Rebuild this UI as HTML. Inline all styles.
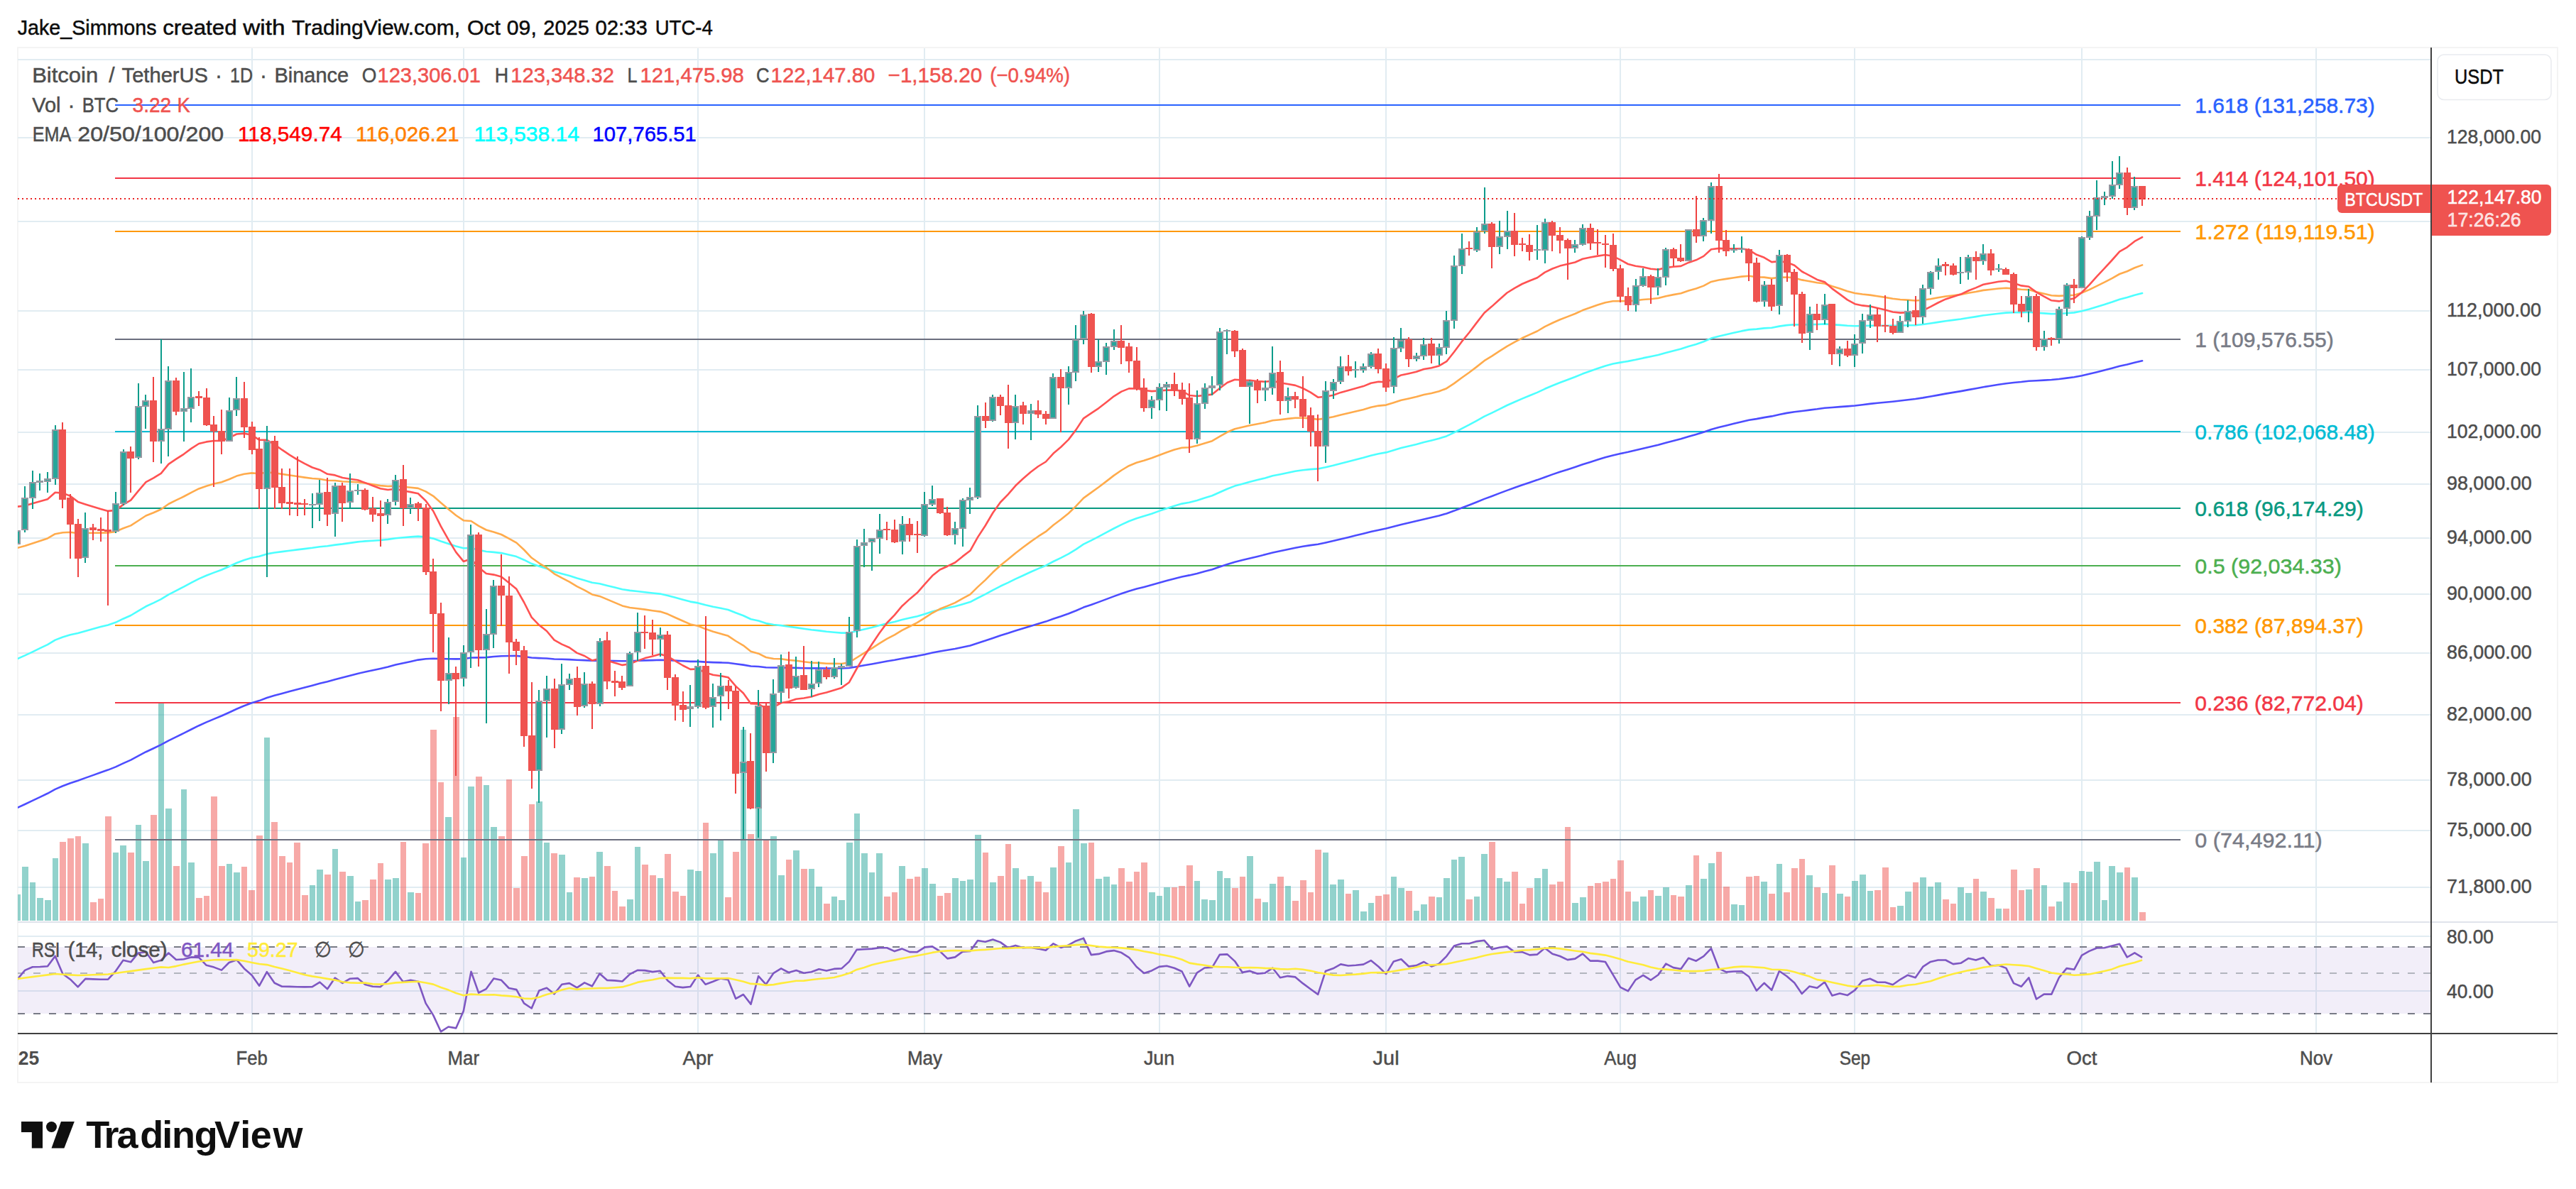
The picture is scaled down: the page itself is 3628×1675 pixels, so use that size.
<!DOCTYPE html>
<html><head><meta charset="utf-8"><title>BTCUSDT chart</title>
<style>html,body{margin:0;padding:0;background:#fff}svg{display:block}</style></head>
<body>
<svg width="3628" height="1675" viewBox="0 0 3628 1675" font-family="'Liberation Sans', sans-serif">
<rect width="3628" height="1675" fill="#fff"/>
<rect x="25" y="67" width="3577" height="1458" fill="none" stroke="#f4f4f4" stroke-width="2"/>
<g stroke="#e1ecf2" stroke-width="2">
<line x1="355" y1="68" x2="355" y2="1456"/>
<line x1="653" y1="68" x2="653" y2="1456"/>
<line x1="983" y1="68" x2="983" y2="1456"/>
<line x1="1302" y1="68" x2="1302" y2="1456"/>
<line x1="1633" y1="68" x2="1633" y2="1456"/>
<line x1="1952" y1="68" x2="1952" y2="1456"/>
<line x1="2282" y1="68" x2="2282" y2="1456"/>
<line x1="2612" y1="68" x2="2612" y2="1456"/>
<line x1="2932" y1="68" x2="2932" y2="1456"/>
<line x1="3262" y1="68" x2="3262" y2="1456"/>
<line x1="25" y1="84" x2="3424" y2="84"/>
<line x1="25" y1="194" x2="3424" y2="194"/>
<line x1="25" y1="312" x2="3424" y2="312"/>
<line x1="25" y1="438" x2="3424" y2="438"/>
<line x1="25" y1="521" x2="3424" y2="521"/>
<line x1="25" y1="609" x2="3424" y2="609"/>
<line x1="25" y1="682" x2="3424" y2="682"/>
<line x1="25" y1="758" x2="3424" y2="758"/>
<line x1="25" y1="837" x2="3424" y2="837"/>
<line x1="25" y1="920" x2="3424" y2="920"/>
<line x1="25" y1="1007" x2="3424" y2="1007"/>
<line x1="25" y1="1099" x2="3424" y2="1099"/>
<line x1="25" y1="1170" x2="3424" y2="1170"/>
<line x1="25" y1="1250" x2="3424" y2="1250"/>
<line x1="25" y1="1319" x2="3424" y2="1319"/>
<line x1="25" y1="1396" x2="3424" y2="1396"/>
</g>
<line x1="25" y1="1299" x2="3602" y2="1299" stroke="#e0e3eb" stroke-width="2"/>
<g shape-rendering="crispEdges" fill-opacity="0.5">
<rect x="25" y="1260" width="4" height="37" fill="#26a69a"/>
<rect x="31" y="1221" width="9" height="76" fill="#26a69a"/>
<rect x="42" y="1243" width="8" height="54" fill="#26a69a"/>
<rect x="52" y="1265" width="9" height="32" fill="#26a69a"/>
<rect x="63" y="1268" width="9" height="29" fill="#26a69a"/>
<rect x="74" y="1209" width="8" height="88" fill="#26a69a"/>
<rect x="84" y="1186" width="9" height="111" fill="#ef5350"/>
<rect x="95" y="1181" width="9" height="116" fill="#ef5350"/>
<rect x="106" y="1178" width="8" height="119" fill="#ef5350"/>
<rect x="116" y="1188" width="9" height="109" fill="#26a69a"/>
<rect x="127" y="1271" width="9" height="26" fill="#ef5350"/>
<rect x="138" y="1266" width="8" height="31" fill="#ef5350"/>
<rect x="148" y="1150" width="9" height="147" fill="#ef5350"/>
<rect x="159" y="1201" width="8" height="96" fill="#26a69a"/>
<rect x="169" y="1191" width="9" height="106" fill="#26a69a"/>
<rect x="180" y="1201" width="9" height="96" fill="#ef5350"/>
<rect x="191" y="1162" width="8" height="135" fill="#26a69a"/>
<rect x="201" y="1213" width="9" height="84" fill="#26a69a"/>
<rect x="212" y="1148" width="9" height="149" fill="#ef5350"/>
<rect x="223" y="990" width="8" height="307" fill="#26a69a"/>
<rect x="233" y="1139" width="9" height="158" fill="#26a69a"/>
<rect x="244" y="1220" width="9" height="77" fill="#ef5350"/>
<rect x="255" y="1112" width="8" height="185" fill="#26a69a"/>
<rect x="265" y="1215" width="9" height="82" fill="#26a69a"/>
<rect x="276" y="1265" width="9" height="32" fill="#ef5350"/>
<rect x="287" y="1262" width="8" height="35" fill="#ef5350"/>
<rect x="297" y="1122" width="9" height="175" fill="#ef5350"/>
<rect x="308" y="1220" width="9" height="77" fill="#ef5350"/>
<rect x="319" y="1217" width="8" height="80" fill="#26a69a"/>
<rect x="329" y="1229" width="9" height="68" fill="#26a69a"/>
<rect x="340" y="1221" width="8" height="76" fill="#ef5350"/>
<rect x="350" y="1254" width="9" height="43" fill="#ef5350"/>
<rect x="361" y="1177" width="9" height="120" fill="#ef5350"/>
<rect x="372" y="1039" width="8" height="258" fill="#26a69a"/>
<rect x="382" y="1158" width="9" height="139" fill="#ef5350"/>
<rect x="393" y="1206" width="9" height="91" fill="#ef5350"/>
<rect x="404" y="1215" width="8" height="82" fill="#ef5350"/>
<rect x="414" y="1187" width="9" height="110" fill="#ef5350"/>
<rect x="425" y="1261" width="9" height="36" fill="#ef5350"/>
<rect x="436" y="1247" width="8" height="50" fill="#26a69a"/>
<rect x="446" y="1225" width="9" height="72" fill="#26a69a"/>
<rect x="457" y="1232" width="9" height="65" fill="#ef5350"/>
<rect x="468" y="1196" width="8" height="101" fill="#26a69a"/>
<rect x="478" y="1228" width="9" height="69" fill="#ef5350"/>
<rect x="489" y="1234" width="9" height="63" fill="#26a69a"/>
<rect x="500" y="1270" width="8" height="27" fill="#26a69a"/>
<rect x="510" y="1268" width="9" height="29" fill="#ef5350"/>
<rect x="521" y="1239" width="9" height="58" fill="#ef5350"/>
<rect x="532" y="1216" width="8" height="81" fill="#ef5350"/>
<rect x="542" y="1239" width="9" height="58" fill="#26a69a"/>
<rect x="553" y="1237" width="9" height="60" fill="#26a69a"/>
<rect x="564" y="1186" width="8" height="111" fill="#ef5350"/>
<rect x="574" y="1257" width="9" height="40" fill="#26a69a"/>
<rect x="585" y="1258" width="8" height="39" fill="#ef5350"/>
<rect x="595" y="1188" width="9" height="109" fill="#ef5350"/>
<rect x="606" y="1028" width="9" height="269" fill="#ef5350"/>
<rect x="617" y="1102" width="8" height="195" fill="#ef5350"/>
<rect x="627" y="1151" width="9" height="146" fill="#26a69a"/>
<rect x="638" y="1010" width="9" height="287" fill="#ef5350"/>
<rect x="649" y="1208" width="8" height="89" fill="#26a69a"/>
<rect x="659" y="1108" width="9" height="189" fill="#26a69a"/>
<rect x="670" y="1094" width="9" height="203" fill="#ef5350"/>
<rect x="681" y="1106" width="8" height="191" fill="#26a69a"/>
<rect x="691" y="1165" width="9" height="132" fill="#26a69a"/>
<rect x="702" y="1178" width="9" height="119" fill="#ef5350"/>
<rect x="713" y="1098" width="8" height="199" fill="#ef5350"/>
<rect x="723" y="1251" width="9" height="46" fill="#ef5350"/>
<rect x="734" y="1206" width="9" height="91" fill="#ef5350"/>
<rect x="745" y="1133" width="8" height="164" fill="#ef5350"/>
<rect x="755" y="1129" width="9" height="168" fill="#26a69a"/>
<rect x="766" y="1187" width="8" height="110" fill="#26a69a"/>
<rect x="776" y="1202" width="9" height="95" fill="#ef5350"/>
<rect x="787" y="1204" width="9" height="93" fill="#26a69a"/>
<rect x="798" y="1257" width="8" height="40" fill="#26a69a"/>
<rect x="808" y="1236" width="9" height="61" fill="#ef5350"/>
<rect x="819" y="1237" width="9" height="60" fill="#26a69a"/>
<rect x="830" y="1235" width="8" height="62" fill="#ef5350"/>
<rect x="840" y="1200" width="9" height="97" fill="#26a69a"/>
<rect x="851" y="1220" width="9" height="77" fill="#ef5350"/>
<rect x="862" y="1255" width="8" height="42" fill="#ef5350"/>
<rect x="872" y="1277" width="9" height="20" fill="#ef5350"/>
<rect x="883" y="1267" width="9" height="30" fill="#26a69a"/>
<rect x="894" y="1193" width="8" height="104" fill="#26a69a"/>
<rect x="904" y="1218" width="9" height="79" fill="#ef5350"/>
<rect x="915" y="1233" width="9" height="64" fill="#ef5350"/>
<rect x="926" y="1237" width="8" height="60" fill="#26a69a"/>
<rect x="936" y="1203" width="9" height="94" fill="#ef5350"/>
<rect x="947" y="1256" width="9" height="41" fill="#ef5350"/>
<rect x="958" y="1262" width="8" height="35" fill="#ef5350"/>
<rect x="968" y="1225" width="9" height="72" fill="#26a69a"/>
<rect x="979" y="1227" width="9" height="70" fill="#26a69a"/>
<rect x="990" y="1159" width="8" height="138" fill="#ef5350"/>
<rect x="1000" y="1202" width="9" height="95" fill="#26a69a"/>
<rect x="1011" y="1183" width="8" height="114" fill="#26a69a"/>
<rect x="1021" y="1264" width="9" height="33" fill="#ef5350"/>
<rect x="1032" y="1200" width="9" height="97" fill="#ef5350"/>
<rect x="1043" y="1028" width="8" height="269" fill="#26a69a"/>
<rect x="1053" y="1175" width="9" height="122" fill="#ef5350"/>
<rect x="1064" y="1040" width="9" height="257" fill="#26a69a"/>
<rect x="1075" y="1182" width="8" height="115" fill="#ef5350"/>
<rect x="1085" y="1178" width="9" height="119" fill="#26a69a"/>
<rect x="1096" y="1233" width="9" height="64" fill="#26a69a"/>
<rect x="1107" y="1211" width="8" height="86" fill="#ef5350"/>
<rect x="1117" y="1198" width="9" height="99" fill="#26a69a"/>
<rect x="1128" y="1224" width="9" height="73" fill="#ef5350"/>
<rect x="1139" y="1224" width="8" height="73" fill="#26a69a"/>
<rect x="1149" y="1249" width="9" height="48" fill="#26a69a"/>
<rect x="1160" y="1273" width="9" height="24" fill="#ef5350"/>
<rect x="1171" y="1263" width="8" height="34" fill="#26a69a"/>
<rect x="1181" y="1268" width="9" height="29" fill="#26a69a"/>
<rect x="1192" y="1187" width="9" height="110" fill="#26a69a"/>
<rect x="1203" y="1146" width="8" height="151" fill="#26a69a"/>
<rect x="1213" y="1202" width="9" height="95" fill="#26a69a"/>
<rect x="1224" y="1229" width="8" height="68" fill="#26a69a"/>
<rect x="1234" y="1202" width="9" height="95" fill="#26a69a"/>
<rect x="1245" y="1263" width="9" height="34" fill="#ef5350"/>
<rect x="1256" y="1257" width="8" height="40" fill="#ef5350"/>
<rect x="1266" y="1220" width="9" height="77" fill="#26a69a"/>
<rect x="1277" y="1238" width="9" height="59" fill="#ef5350"/>
<rect x="1288" y="1235" width="8" height="62" fill="#ef5350"/>
<rect x="1298" y="1223" width="9" height="74" fill="#26a69a"/>
<rect x="1309" y="1245" width="9" height="52" fill="#26a69a"/>
<rect x="1320" y="1262" width="8" height="35" fill="#ef5350"/>
<rect x="1330" y="1258" width="9" height="39" fill="#ef5350"/>
<rect x="1341" y="1237" width="9" height="60" fill="#26a69a"/>
<rect x="1352" y="1241" width="8" height="56" fill="#26a69a"/>
<rect x="1362" y="1239" width="9" height="58" fill="#26a69a"/>
<rect x="1373" y="1176" width="9" height="121" fill="#26a69a"/>
<rect x="1384" y="1201" width="8" height="96" fill="#ef5350"/>
<rect x="1394" y="1243" width="9" height="54" fill="#26a69a"/>
<rect x="1405" y="1234" width="9" height="63" fill="#ef5350"/>
<rect x="1416" y="1189" width="8" height="108" fill="#ef5350"/>
<rect x="1426" y="1223" width="9" height="74" fill="#26a69a"/>
<rect x="1437" y="1239" width="8" height="58" fill="#ef5350"/>
<rect x="1447" y="1234" width="9" height="63" fill="#26a69a"/>
<rect x="1458" y="1242" width="9" height="55" fill="#ef5350"/>
<rect x="1469" y="1257" width="8" height="40" fill="#ef5350"/>
<rect x="1479" y="1222" width="9" height="75" fill="#26a69a"/>
<rect x="1490" y="1192" width="9" height="105" fill="#ef5350"/>
<rect x="1501" y="1215" width="8" height="82" fill="#26a69a"/>
<rect x="1511" y="1140" width="9" height="157" fill="#26a69a"/>
<rect x="1522" y="1188" width="9" height="109" fill="#26a69a"/>
<rect x="1533" y="1187" width="8" height="110" fill="#ef5350"/>
<rect x="1543" y="1238" width="9" height="59" fill="#26a69a"/>
<rect x="1554" y="1235" width="9" height="62" fill="#26a69a"/>
<rect x="1565" y="1246" width="8" height="51" fill="#26a69a"/>
<rect x="1575" y="1223" width="9" height="74" fill="#ef5350"/>
<rect x="1586" y="1242" width="9" height="55" fill="#ef5350"/>
<rect x="1597" y="1228" width="8" height="69" fill="#ef5350"/>
<rect x="1607" y="1215" width="9" height="82" fill="#ef5350"/>
<rect x="1618" y="1257" width="9" height="40" fill="#26a69a"/>
<rect x="1629" y="1262" width="8" height="35" fill="#26a69a"/>
<rect x="1639" y="1250" width="9" height="47" fill="#26a69a"/>
<rect x="1650" y="1250" width="8" height="47" fill="#ef5350"/>
<rect x="1660" y="1248" width="9" height="49" fill="#ef5350"/>
<rect x="1671" y="1219" width="9" height="78" fill="#ef5350"/>
<rect x="1682" y="1241" width="8" height="56" fill="#26a69a"/>
<rect x="1692" y="1267" width="9" height="30" fill="#26a69a"/>
<rect x="1703" y="1268" width="9" height="29" fill="#26a69a"/>
<rect x="1714" y="1227" width="8" height="70" fill="#26a69a"/>
<rect x="1724" y="1237" width="9" height="60" fill="#26a69a"/>
<rect x="1735" y="1251" width="9" height="46" fill="#ef5350"/>
<rect x="1746" y="1235" width="8" height="62" fill="#ef5350"/>
<rect x="1756" y="1206" width="9" height="91" fill="#26a69a"/>
<rect x="1767" y="1266" width="9" height="31" fill="#ef5350"/>
<rect x="1778" y="1271" width="8" height="26" fill="#26a69a"/>
<rect x="1788" y="1245" width="9" height="52" fill="#26a69a"/>
<rect x="1799" y="1235" width="9" height="62" fill="#ef5350"/>
<rect x="1810" y="1248" width="8" height="49" fill="#26a69a"/>
<rect x="1820" y="1269" width="9" height="28" fill="#ef5350"/>
<rect x="1831" y="1240" width="9" height="57" fill="#ef5350"/>
<rect x="1842" y="1257" width="8" height="40" fill="#ef5350"/>
<rect x="1852" y="1197" width="9" height="100" fill="#ef5350"/>
<rect x="1863" y="1201" width="8" height="96" fill="#26a69a"/>
<rect x="1873" y="1246" width="9" height="51" fill="#26a69a"/>
<rect x="1884" y="1239" width="9" height="58" fill="#26a69a"/>
<rect x="1895" y="1259" width="8" height="38" fill="#ef5350"/>
<rect x="1905" y="1254" width="9" height="43" fill="#26a69a"/>
<rect x="1916" y="1284" width="9" height="13" fill="#26a69a"/>
<rect x="1927" y="1272" width="8" height="25" fill="#26a69a"/>
<rect x="1937" y="1262" width="9" height="35" fill="#ef5350"/>
<rect x="1948" y="1260" width="9" height="37" fill="#ef5350"/>
<rect x="1959" y="1235" width="8" height="62" fill="#26a69a"/>
<rect x="1969" y="1251" width="9" height="46" fill="#26a69a"/>
<rect x="1980" y="1255" width="9" height="42" fill="#ef5350"/>
<rect x="1991" y="1283" width="8" height="14" fill="#26a69a"/>
<rect x="2001" y="1274" width="9" height="23" fill="#26a69a"/>
<rect x="2012" y="1263" width="9" height="34" fill="#ef5350"/>
<rect x="2023" y="1264" width="8" height="33" fill="#26a69a"/>
<rect x="2033" y="1237" width="9" height="60" fill="#26a69a"/>
<rect x="2044" y="1211" width="8" height="86" fill="#26a69a"/>
<rect x="2054" y="1207" width="9" height="90" fill="#26a69a"/>
<rect x="2065" y="1267" width="9" height="30" fill="#ef5350"/>
<rect x="2076" y="1263" width="8" height="34" fill="#26a69a"/>
<rect x="2086" y="1203" width="9" height="94" fill="#26a69a"/>
<rect x="2097" y="1186" width="9" height="111" fill="#ef5350"/>
<rect x="2108" y="1237" width="8" height="60" fill="#26a69a"/>
<rect x="2118" y="1242" width="9" height="55" fill="#26a69a"/>
<rect x="2129" y="1228" width="9" height="69" fill="#ef5350"/>
<rect x="2140" y="1273" width="8" height="24" fill="#ef5350"/>
<rect x="2150" y="1251" width="9" height="46" fill="#ef5350"/>
<rect x="2161" y="1237" width="9" height="60" fill="#26a69a"/>
<rect x="2172" y="1224" width="8" height="73" fill="#26a69a"/>
<rect x="2182" y="1246" width="9" height="51" fill="#ef5350"/>
<rect x="2193" y="1242" width="9" height="55" fill="#ef5350"/>
<rect x="2204" y="1165" width="8" height="132" fill="#ef5350"/>
<rect x="2214" y="1272" width="9" height="25" fill="#26a69a"/>
<rect x="2225" y="1264" width="9" height="33" fill="#26a69a"/>
<rect x="2236" y="1248" width="8" height="49" fill="#ef5350"/>
<rect x="2246" y="1244" width="9" height="53" fill="#ef5350"/>
<rect x="2257" y="1242" width="9" height="55" fill="#ef5350"/>
<rect x="2268" y="1238" width="8" height="59" fill="#ef5350"/>
<rect x="2278" y="1212" width="9" height="85" fill="#ef5350"/>
<rect x="2289" y="1256" width="8" height="41" fill="#ef5350"/>
<rect x="2299" y="1270" width="9" height="27" fill="#26a69a"/>
<rect x="2310" y="1263" width="9" height="34" fill="#26a69a"/>
<rect x="2321" y="1254" width="8" height="43" fill="#ef5350"/>
<rect x="2331" y="1262" width="9" height="35" fill="#26a69a"/>
<rect x="2342" y="1250" width="9" height="47" fill="#26a69a"/>
<rect x="2353" y="1261" width="8" height="36" fill="#ef5350"/>
<rect x="2363" y="1263" width="9" height="34" fill="#ef5350"/>
<rect x="2374" y="1247" width="9" height="50" fill="#26a69a"/>
<rect x="2385" y="1205" width="8" height="92" fill="#ef5350"/>
<rect x="2395" y="1238" width="9" height="59" fill="#26a69a"/>
<rect x="2406" y="1216" width="9" height="81" fill="#26a69a"/>
<rect x="2417" y="1200" width="8" height="97" fill="#ef5350"/>
<rect x="2427" y="1249" width="9" height="48" fill="#ef5350"/>
<rect x="2438" y="1274" width="9" height="23" fill="#26a69a"/>
<rect x="2449" y="1275" width="8" height="22" fill="#26a69a"/>
<rect x="2459" y="1235" width="9" height="62" fill="#ef5350"/>
<rect x="2470" y="1234" width="8" height="63" fill="#ef5350"/>
<rect x="2480" y="1242" width="9" height="55" fill="#26a69a"/>
<rect x="2491" y="1259" width="9" height="38" fill="#ef5350"/>
<rect x="2502" y="1217" width="8" height="80" fill="#26a69a"/>
<rect x="2512" y="1257" width="9" height="40" fill="#ef5350"/>
<rect x="2523" y="1223" width="9" height="74" fill="#ef5350"/>
<rect x="2534" y="1210" width="8" height="87" fill="#ef5350"/>
<rect x="2544" y="1233" width="9" height="64" fill="#26a69a"/>
<rect x="2555" y="1250" width="9" height="47" fill="#ef5350"/>
<rect x="2566" y="1258" width="8" height="39" fill="#26a69a"/>
<rect x="2576" y="1219" width="9" height="78" fill="#ef5350"/>
<rect x="2587" y="1259" width="9" height="38" fill="#26a69a"/>
<rect x="2598" y="1263" width="8" height="34" fill="#ef5350"/>
<rect x="2608" y="1241" width="9" height="56" fill="#26a69a"/>
<rect x="2619" y="1232" width="9" height="65" fill="#26a69a"/>
<rect x="2630" y="1255" width="8" height="42" fill="#26a69a"/>
<rect x="2640" y="1254" width="9" height="43" fill="#ef5350"/>
<rect x="2651" y="1222" width="9" height="75" fill="#ef5350"/>
<rect x="2662" y="1278" width="8" height="19" fill="#ef5350"/>
<rect x="2672" y="1276" width="9" height="21" fill="#26a69a"/>
<rect x="2683" y="1256" width="9" height="41" fill="#26a69a"/>
<rect x="2694" y="1243" width="8" height="54" fill="#ef5350"/>
<rect x="2704" y="1236" width="9" height="61" fill="#26a69a"/>
<rect x="2715" y="1249" width="8" height="48" fill="#26a69a"/>
<rect x="2725" y="1243" width="9" height="54" fill="#26a69a"/>
<rect x="2736" y="1267" width="9" height="30" fill="#ef5350"/>
<rect x="2747" y="1273" width="8" height="24" fill="#ef5350"/>
<rect x="2757" y="1250" width="9" height="47" fill="#26a69a"/>
<rect x="2768" y="1258" width="9" height="39" fill="#26a69a"/>
<rect x="2779" y="1238" width="8" height="59" fill="#ef5350"/>
<rect x="2789" y="1256" width="9" height="41" fill="#26a69a"/>
<rect x="2800" y="1265" width="9" height="32" fill="#ef5350"/>
<rect x="2811" y="1280" width="8" height="17" fill="#26a69a"/>
<rect x="2821" y="1280" width="9" height="17" fill="#ef5350"/>
<rect x="2832" y="1225" width="9" height="72" fill="#ef5350"/>
<rect x="2843" y="1254" width="8" height="43" fill="#ef5350"/>
<rect x="2853" y="1253" width="9" height="44" fill="#26a69a"/>
<rect x="2864" y="1223" width="9" height="74" fill="#ef5350"/>
<rect x="2875" y="1247" width="8" height="50" fill="#26a69a"/>
<rect x="2885" y="1277" width="9" height="20" fill="#ef5350"/>
<rect x="2896" y="1270" width="8" height="27" fill="#26a69a"/>
<rect x="2906" y="1243" width="9" height="54" fill="#26a69a"/>
<rect x="2917" y="1244" width="9" height="53" fill="#ef5350"/>
<rect x="2928" y="1227" width="8" height="70" fill="#26a69a"/>
<rect x="2938" y="1228" width="9" height="69" fill="#26a69a"/>
<rect x="2949" y="1214" width="9" height="83" fill="#26a69a"/>
<rect x="2960" y="1268" width="8" height="29" fill="#26a69a"/>
<rect x="2970" y="1220" width="9" height="77" fill="#26a69a"/>
<rect x="2981" y="1229" width="9" height="68" fill="#26a69a"/>
<rect x="2992" y="1222" width="8" height="75" fill="#ef5350"/>
<rect x="3002" y="1236" width="9" height="61" fill="#26a69a"/>
<rect x="3013" y="1285" width="9" height="12" fill="#ef5350"/>
</g>
<line x1="162" y1="148" x2="3071" y2="148" stroke="#2962ff" stroke-width="2"/>
<line x1="162" y1="251" x2="3071" y2="251" stroke="#f23645" stroke-width="2"/>
<line x1="162" y1="326" x2="3071" y2="326" stroke="#ff9800" stroke-width="2"/>
<line x1="162" y1="478" x2="3071" y2="478" stroke="#6b6e7e" stroke-width="2"/>
<line x1="162" y1="608" x2="3071" y2="608" stroke="#00bcd4" stroke-width="2"/>
<line x1="162" y1="716" x2="3071" y2="716" stroke="#089981" stroke-width="2"/>
<line x1="162" y1="797" x2="3071" y2="797" stroke="#4caf50" stroke-width="2"/>
<line x1="162" y1="881" x2="3071" y2="881" stroke="#ff9800" stroke-width="2"/>
<line x1="162" y1="990" x2="3071" y2="990" stroke="#f23645" stroke-width="2"/>
<line x1="162" y1="1183" x2="3071" y2="1183" stroke="#6b6e7e" stroke-width="2"/>
<clipPath id="cp"><rect x="25" y="67" width="3399" height="1232"/></clipPath>
<g clip-path="url(#cp)">
<polyline points="24.4,1137.9 35.1,1133.0 45.8,1127.9 56.4,1122.8 67.0,1117.8 77.7,1111.9 88.4,1107.3 99.0,1103.3 109.7,1099.8 120.3,1095.9 130.9,1092.1 141.6,1088.3 152.2,1084.6 162.9,1080.4 173.5,1075.4 184.2,1070.6 194.8,1064.9 205.5,1059.2 216.2,1054.3 226.8,1049.2 237.4,1043.3 248.1,1038.1 258.8,1032.8 269.4,1027.5 280.1,1022.2 290.7,1017.4 301.4,1012.9 312.0,1008.5 322.6,1003.7 333.3,998.7 343.9,994.3 354.6,990.3 365.2,987.1 375.9,983.0 386.6,979.8 397.2,976.9 407.9,974.0 418.5,971.2 429.1,968.4 439.8,965.7 450.4,962.8 461.1,960.2 471.8,957.3 482.4,954.6 493.1,951.8 503.7,949.0 514.4,946.5 525.0,944.2 535.7,941.9 546.3,939.4 557.0,936.6 567.6,934.2 578.3,931.9 588.9,929.6 599.6,928.3 610.2,927.7 620.9,928.0 631.5,928.2 642.2,928.4 652.8,928.3 663.5,926.5 674.1,926.4 684.8,926.1 695.4,925.0 706.1,924.2 716.7,924.0 727.4,923.9 738.0,925.0 748.7,926.5 759.3,927.1 770.0,927.5 780.6,928.5 791.3,928.8 801.9,929.1 812.6,929.7 823.2,930.1 833.9,930.7 844.5,930.4 855.2,930.7 865.8,931.0 876.5,931.3 887.1,931.2 897.8,930.8 908.4,930.4 919.1,930.1 929.7,929.7 940.4,930.0 951.0,930.6 961.7,931.3 972.3,931.9 983.0,931.9 993.6,932.6 1004.3,933.1 1014.9,933.4 1025.5,933.8 1036.2,935.3 1046.9,936.6 1057.5,938.5 1068.2,939.0 1078.8,940.2 1089.5,940.5 1100.1,940.5 1110.8,940.8 1121.4,940.9 1132.1,941.2 1142.7,941.4 1153.4,941.4 1164.0,941.5 1174.7,941.5 1185.3,941.5 1196.0,941.0 1206.6,939.2 1217.2,937.3 1227.9,935.5 1238.6,933.5 1249.2,931.5 1259.9,929.8 1270.5,927.8 1281.2,925.9 1291.8,924.1 1302.5,921.9 1313.1,919.6 1323.8,917.5 1334.4,915.8 1345.1,914.0 1355.7,911.8 1366.4,909.5 1377.0,906.0 1387.7,902.6 1398.3,898.9 1409.0,895.3 1419.6,892.1 1430.2,888.6 1440.9,885.3 1451.6,881.9 1462.2,878.7 1472.9,875.6 1483.5,871.8 1494.2,868.3 1504.8,864.5 1515.5,860.2 1526.1,855.6 1536.8,851.9 1547.4,848.1 1558.1,844.1 1568.7,840.1 1579.4,836.3 1590.0,832.7 1600.7,829.6 1611.3,826.9 1622.0,824.1 1632.6,821.1 1643.2,818.1 1653.9,815.2 1664.6,812.5 1675.2,810.4 1685.9,807.9 1696.5,805.1 1707.2,802.3 1717.8,798.6 1728.5,795.0 1739.1,791.7 1749.8,789.1 1760.4,786.4 1771.1,783.9 1781.7,781.3 1792.4,778.6 1803.0,776.3 1813.7,774.0 1824.3,771.8 1835.0,769.8 1845.6,768.1 1856.2,766.7 1866.9,764.4 1877.6,762.0 1888.2,759.4 1898.9,756.9 1909.5,754.3 1920.2,751.8 1930.8,749.1 1941.5,746.7 1952.1,744.5 1962.8,741.8 1973.4,739.0 1984.1,736.5 1994.7,734.0 2005.4,731.4 2016.0,728.9 2026.7,726.4 2037.3,723.4 2048.0,719.6 2058.6,715.5 2069.2,711.5 2079.9,707.2 2090.5,702.9 2101.2,699.0 2111.8,694.9 2122.5,690.9 2133.2,687.1 2143.8,683.3 2154.4,679.7 2165.1,676.1 2175.8,672.2 2186.4,668.4 2197.0,664.8 2207.7,661.4 2218.3,657.9 2229.0,654.3 2239.7,650.9 2250.3,647.5 2260.9,644.2 2271.6,641.4 2282.2,639.0 2292.9,636.8 2303.5,634.3 2314.2,631.7 2324.8,629.3 2335.5,626.7 2346.2,623.8 2356.8,621.0 2367.4,618.3 2378.1,615.1 2388.8,612.0 2399.4,608.8 2410.0,605.0 2420.7,602.1 2431.3,599.5 2442.0,596.8 2452.7,594.2 2463.3,591.8 2473.9,590.1 2484.6,588.1 2495.2,586.4 2505.9,584.0 2516.5,581.9 2527.2,580.2 2537.8,579.0 2548.5,577.6 2559.2,576.3 2569.8,574.7 2580.4,574.0 2591.1,573.1 2601.8,572.4 2612.4,571.5 2623.0,570.2 2633.7,568.9 2644.3,567.8 2655.0,566.7 2665.7,565.7 2676.3,564.5 2686.9,563.2 2697.6,562.0 2708.2,560.4 2718.9,558.5 2729.5,556.6 2740.2,554.6 2750.8,552.9 2761.5,551.1 2772.2,549.1 2782.8,547.2 2793.4,545.2 2804.1,543.5 2814.8,541.8 2825.4,540.2 2836.0,539.0 2846.7,538.0 2857.3,536.7 2868.0,536.2 2878.7,535.6 2889.3,535.0 2899.9,534.0 2910.6,532.6 2921.2,531.3 2931.9,529.2 2942.5,526.8 2953.2,524.2 2963.8,521.5 2974.5,518.7 2985.2,515.8 2995.8,513.4 3006.4,510.7 3017.1,508.3" fill="none" stroke="#4d4dff" stroke-width="2.6" stroke-linejoin="round" stroke-linecap="round"/>
<polyline points="24.4,928.2 35.1,923.4 45.8,918.3 56.4,913.2 67.0,908.1 77.7,901.6 88.4,897.5 99.0,894.2 109.7,892.0 120.3,888.9 130.9,886.0 141.6,883.1 152.2,880.4 162.9,876.8 173.5,871.7 184.2,867.0 194.8,860.7 205.5,854.3 216.2,849.4 226.8,844.2 237.4,837.6 248.1,832.1 258.8,826.6 269.4,820.9 280.1,815.4 290.7,810.8 301.4,806.6 312.0,802.7 322.6,798.0 333.3,793.0 343.9,789.0 354.6,785.8 365.2,783.8 375.9,780.4 386.6,778.5 397.2,777.1 407.9,775.7 418.5,774.4 429.1,773.1 439.8,771.8 450.4,770.2 461.1,769.3 471.8,767.6 482.4,766.4 493.1,764.9 503.7,763.4 514.4,762.4 525.0,761.7 535.7,761.0 546.3,759.9 557.0,758.2 567.6,757.3 578.3,756.4 588.9,755.6 599.6,756.6 610.2,758.6 620.9,762.4 631.5,765.9 642.2,769.5 652.8,772.3 663.5,771.9 674.1,774.7 684.8,777.0 695.4,777.9 706.1,779.1 716.7,781.5 727.4,784.1 738.0,788.7 748.7,794.1 759.3,797.8 770.0,801.0 780.6,805.3 791.3,808.3 801.9,811.1 812.6,814.6 823.2,817.4 833.9,820.7 844.5,822.3 855.2,824.9 865.8,827.5 876.5,830.2 887.1,831.9 897.8,833.0 908.4,834.2 919.1,835.5 929.7,836.6 940.4,838.9 951.0,841.8 961.7,844.8 972.3,847.6 983.0,849.4 993.6,852.2 1004.3,854.7 1014.9,856.8 1025.5,859.0 1036.2,863.3 1046.9,867.2 1057.5,872.2 1068.2,874.6 1078.8,878.1 1089.5,880.0 1100.1,881.1 1110.8,882.8 1121.4,884.1 1132.1,885.8 1142.7,887.3 1153.4,888.4 1164.0,889.7 1174.7,890.7 1185.3,891.6 1196.0,891.6 1206.6,889.1 1217.2,886.5 1227.9,883.9 1238.6,881.0 1249.2,878.3 1259.9,875.9 1270.5,873.1 1281.2,870.6 1291.8,868.2 1302.5,865.0 1313.1,861.6 1323.8,858.8 1334.4,856.6 1345.1,854.3 1355.7,851.2 1366.4,848.1 1377.0,842.5 1387.7,837.2 1398.3,831.3 1409.0,825.8 1419.6,820.9 1430.2,815.6 1440.9,810.7 1451.6,805.8 1462.2,801.1 1472.9,796.7 1483.5,791.0 1494.2,785.8 1504.8,780.3 1515.5,773.8 1526.1,766.6 1536.8,761.3 1547.4,755.9 1558.1,750.2 1568.7,744.5 1579.4,739.1 1590.0,734.2 1600.7,730.3 1611.3,727.1 1622.0,723.7 1632.6,719.9 1643.2,716.2 1653.9,712.8 1664.6,709.6 1675.2,707.8 1685.9,704.9 1696.5,701.6 1707.2,698.3 1717.8,693.5 1728.5,688.7 1739.1,684.6 1749.8,681.7 1760.4,678.7 1771.1,676.1 1781.7,673.4 1792.4,670.3 1803.0,668.2 1813.7,665.9 1824.3,663.8 1835.0,662.2 1845.6,661.1 1856.2,660.4 1866.9,658.2 1877.6,655.7 1888.2,652.9 1898.9,650.2 1909.5,647.5 1920.2,644.8 1930.8,641.8 1941.5,639.3 1952.1,637.4 1962.8,634.3 1973.4,631.1 1984.1,628.5 1994.7,625.9 2005.4,623.0 2016.0,620.5 2026.7,617.8 2037.3,614.4 2048.0,609.3 2058.6,603.8 2069.2,598.4 2079.9,592.6 2090.5,586.7 2101.2,581.6 2111.8,576.3 2122.5,571.0 2133.2,566.2 2143.8,561.6 2154.4,557.2 2165.1,552.9 2175.8,547.8 2186.4,543.3 2197.0,539.0 2207.7,535.0 2218.3,531.0 2229.0,526.6 2239.7,522.8 2250.3,519.0 2260.9,515.4 2271.6,512.5 2282.2,510.6 2292.9,508.9 2303.5,506.8 2314.2,504.4 2324.8,502.3 2335.5,500.0 2346.2,496.9 2356.8,494.2 2367.4,491.6 2378.1,488.1 2388.8,484.9 2399.4,481.2 2410.0,476.6 2420.7,473.8 2431.3,471.3 2442.0,468.8 2452.7,466.4 2463.3,464.4 2473.9,463.6 2484.6,462.4 2495.2,461.7 2505.9,459.6 2516.5,458.1 2527.2,457.2 2537.8,457.4 2548.5,457.1 2559.2,457.0 2569.8,456.4 2580.4,457.2 2591.1,457.9 2601.8,458.7 2612.4,459.2 2623.0,459.0 2633.7,458.7 2644.3,458.7 2655.0,458.7 2665.7,458.9 2676.3,458.8 2686.9,458.3 2697.6,458.1 2708.2,457.0 2718.9,455.5 2729.5,453.9 2740.2,452.2 2750.8,450.9 2761.5,449.5 2772.2,447.8 2782.8,446.1 2793.4,444.3 2804.1,443.0 2814.8,441.7 2825.4,440.6 2836.0,440.3 2846.7,440.3 2857.3,439.8 2868.0,440.7 2878.7,441.4 2889.3,442.1 2899.9,442.0 2910.6,441.2 2921.2,440.4 2931.9,438.3 2942.5,435.5 2953.2,432.2 2963.8,429.0 2974.5,425.5 2985.2,421.7 2995.8,419.0 3006.4,415.8 3017.1,413.0" fill="none" stroke="#4dffff" stroke-width="2.6" stroke-linejoin="round" stroke-linecap="round"/>
<polyline points="24.4,771.9 35.1,769.1 45.8,765.5 56.4,761.9 67.0,758.4 77.7,752.2 88.4,750.2 99.0,749.8 109.7,751.2 120.3,750.9 130.9,750.7 141.6,750.6 152.2,750.5 162.9,748.9 173.5,744.3 184.2,740.4 194.8,733.5 205.5,726.5 216.2,722.3 226.8,717.5 237.4,710.0 248.1,704.7 258.8,699.5 269.4,693.8 280.1,688.4 290.7,684.7 301.4,681.6 312.0,679.2 322.6,675.2 333.3,670.6 343.9,667.8 354.6,666.4 365.2,667.3 375.9,665.4 386.6,666.2 397.2,667.9 407.9,669.5 418.5,671.0 429.1,672.6 439.8,674.0 450.4,674.8 461.1,676.7 471.8,677.0 482.4,678.2 493.1,678.8 503.7,679.2 514.4,680.7 525.0,682.4 535.7,684.1 546.3,685.0 557.0,684.6 567.6,685.8 578.3,686.8 588.9,687.9 599.6,692.4 610.2,698.8 620.9,708.3 631.5,717.2 642.2,726.0 652.8,733.2 663.5,734.0 674.1,740.8 684.8,746.5 695.4,749.6 706.1,753.0 716.7,758.7 727.4,764.6 738.0,774.5 748.7,785.8 759.3,793.3 770.0,799.9 780.6,808.3 791.3,814.2 801.9,819.6 812.6,826.1 823.2,831.3 833.9,837.4 844.5,839.9 855.2,844.4 865.8,848.9 876.5,853.4 887.1,856.0 897.8,857.3 908.4,858.6 919.1,860.2 929.7,861.6 940.4,865.1 951.0,870.0 961.7,874.8 972.3,879.4 983.0,881.7 993.6,886.1 1004.3,889.7 1014.9,892.7 1025.5,895.8 1036.2,903.0 1046.9,909.3 1057.5,917.8 1068.2,920.7 1078.8,926.0 1089.5,928.0 1100.1,928.3 1110.8,929.9 1121.4,930.8 1132.1,932.3 1142.7,933.5 1153.4,933.9 1164.0,934.7 1174.7,934.9 1185.3,935.0 1196.0,933.2 1206.6,926.5 1217.2,919.9 1227.9,913.3 1238.6,906.4 1249.2,899.9 1259.9,894.3 1270.5,887.9 1281.2,882.5 1291.8,877.2 1302.5,870.4 1313.1,863.5 1323.8,857.8 1334.4,853.6 1345.1,849.1 1355.7,843.2 1366.4,837.4 1377.0,826.9 1387.7,817.1 1398.3,806.3 1409.0,796.5 1419.6,788.1 1430.2,779.2 1440.9,771.0 1451.6,763.1 1462.2,755.7 1472.9,748.9 1483.5,739.8 1494.2,731.8 1504.8,723.2 1515.5,712.9 1526.1,701.6 1536.8,693.9 1547.4,686.3 1558.1,678.1 1568.7,669.9 1579.4,662.5 1590.0,656.2 1600.7,651.8 1611.3,648.7 1622.0,645.2 1632.6,641.2 1643.2,637.2 1653.9,633.6 1664.6,630.7 1675.2,630.2 1685.9,627.8 1696.5,624.5 1707.2,621.2 1717.8,614.9 1728.5,608.8 1739.1,604.2 1749.8,601.8 1760.4,599.2 1771.1,597.2 1781.7,595.2 1792.4,592.3 1803.0,591.2 1813.7,589.9 1824.3,588.8 1835.0,588.7 1845.6,589.4 1856.2,590.9 1866.9,589.3 1877.6,587.2 1888.2,584.4 1898.9,581.9 1909.5,579.5 1920.2,576.9 1930.8,573.8 1941.5,571.6 1952.1,570.6 1962.8,567.3 1973.4,563.8 1984.1,561.5 1994.7,559.1 2005.4,556.1 2016.0,553.9 2026.7,551.3 2037.3,547.2 2048.0,540.1 2058.6,532.3 2069.2,524.8 2079.9,516.6 2090.5,508.2 2101.2,501.6 2111.8,494.7 2122.5,487.8 2133.2,481.9 2143.8,476.3 2154.4,471.4 2165.1,466.5 2175.8,460.2 2186.4,455.0 2197.0,450.2 2207.7,446.1 2218.3,442.0 2229.0,437.1 2239.7,433.3 2250.3,429.6 2260.9,426.2 2271.6,424.3 2282.2,424.0 2292.9,424.2 2303.5,423.3 2314.2,422.0 2324.8,421.3 2335.5,420.0 2346.2,417.2 2356.8,415.1 2367.4,413.2 2378.1,409.6 2388.8,406.5 2399.4,402.6 2410.0,396.9 2420.7,394.5 2431.3,392.9 2442.0,391.2 2452.7,389.6 2463.3,388.8 2473.9,390.2 2484.6,390.6 2495.2,392.1 2505.9,390.8 2516.5,390.5 2527.2,391.4 2537.8,394.4 2548.5,396.2 2559.2,398.3 2569.8,399.5 2580.4,403.2 2591.1,406.6 2601.8,410.2 2612.4,413.0 2623.0,414.5 2633.7,415.6 2644.3,417.3 2655.0,418.9 2665.7,420.8 2676.3,422.0 2686.9,422.6 2697.6,423.5 2708.2,422.8 2718.9,421.2 2729.5,419.3 2740.2,417.5 2750.8,416.3 2761.5,414.9 2772.2,412.8 2782.8,411.0 2793.4,408.9 2804.1,407.7 2814.8,406.5 2825.4,405.7 2836.0,406.6 2846.7,407.8 2857.3,408.1 2868.0,411.2 2878.7,413.7 2889.3,416.2 2899.9,416.9 2910.6,416.3 2921.2,415.8 2931.9,412.5 2942.5,408.1 2953.2,402.8 2963.8,397.7 2974.5,392.1 2985.2,386.0 2995.8,382.2 3006.4,377.3 3017.1,373.4" fill="none" stroke="#ffab4c" stroke-width="2.6" stroke-linejoin="round" stroke-linecap="round"/>
<polyline points="24.4,713.7 35.1,712.5 45.8,709.3 56.4,706.3 67.0,703.3 77.7,693.7 88.4,694.6 99.0,698.7 109.7,706.9 120.3,710.4 130.9,713.8 141.6,717.0 152.2,719.9 162.9,718.9 173.5,710.9 184.2,704.6 194.8,691.6 205.5,679.1 216.2,673.4 226.8,666.8 237.4,653.9 248.1,646.7 258.8,639.8 269.4,631.9 280.1,625.0 290.7,622.4 301.4,621.0 312.0,621.0 322.6,616.9 333.3,611.5 343.9,610.6 354.6,612.7 365.2,619.8 375.9,619.9 386.6,626.1 397.2,633.7 407.9,640.8 418.5,647.3 429.1,653.2 439.8,658.5 450.4,661.9 461.1,667.8 471.8,669.4 482.4,673.0 493.1,674.8 503.7,676.2 514.4,680.1 525.0,684.3 535.7,688.2 546.3,690.0 557.0,688.7 567.6,691.3 578.3,693.1 588.9,695.2 599.6,705.5 610.2,720.0 620.9,741.4 631.5,760.1 642.2,777.9 652.8,790.9 663.5,787.3 674.1,799.2 684.8,808.0 695.4,809.6 706.1,812.4 716.7,820.9 727.4,829.8 738.0,848.5 748.7,869.7 759.3,880.6 770.0,889.0 780.6,901.7 791.3,907.6 801.9,912.2 812.6,919.9 823.2,924.0 833.9,930.4 844.5,927.8 855.2,930.8 865.8,933.7 876.5,936.9 887.1,935.3 897.8,930.9 908.4,927.1 919.1,924.5 929.7,921.6 940.4,924.7 951.0,931.1 961.7,937.5 972.3,942.9 983.0,942.5 993.6,947.5 1004.3,950.8 1014.9,952.2 1025.5,954.2 1036.2,966.6 1046.9,976.5 1057.5,991.3 1068.2,991.6 1078.8,998.0 1089.5,996.0 1100.1,990.3 1110.8,988.3 1121.4,984.7 1132.1,983.5 1142.7,981.5 1153.4,977.9 1164.0,975.5 1174.7,972.2 1185.3,968.9 1196.0,961.2 1206.6,942.0 1217.2,924.3 1227.9,907.8 1238.6,891.8 1249.2,877.5 1259.9,866.3 1270.5,853.7 1281.2,843.9 1291.8,835.1 1302.5,822.8 1313.1,811.1 1323.8,802.5 1334.4,797.7 1345.1,792.5 1355.7,783.9 1366.4,775.8 1377.0,756.9 1387.7,740.5 1398.3,722.5 1409.0,707.5 1419.6,696.6 1430.2,684.3 1440.9,674.3 1451.6,665.0 1462.2,657.0 1472.9,650.5 1483.5,638.8 1494.2,629.7 1504.8,619.4 1515.5,605.4 1526.1,589.3 1536.8,582.2 1547.4,575.1 1558.1,566.7 1568.7,558.3 1579.4,551.6 1590.0,547.4 1600.7,547.3 1611.3,549.8 1622.0,551.1 1632.6,550.5 1643.2,549.6 1653.9,549.5 1664.6,550.6 1675.2,557.0 1685.9,558.0 1696.5,556.9 1707.2,555.6 1717.8,547.0 1728.5,539.0 1739.1,534.7 1749.8,535.5 1760.4,535.7 1771.1,537.0 1781.7,537.8 1792.4,536.6 1803.0,539.2 1813.7,541.0 1824.3,542.9 1835.0,547.0 1845.6,552.6 1856.2,559.7 1866.9,558.8 1877.6,556.7 1888.2,552.9 1898.9,549.9 1909.5,547.1 1920.2,544.1 1930.8,539.7 1941.5,537.8 1952.1,538.4 1962.8,533.8 1973.4,528.4 1984.1,526.2 1994.7,523.8 2005.4,520.0 2016.0,518.2 2026.7,515.4 2037.3,509.2 2048.0,495.8 2058.6,481.4 2069.2,468.5 2079.9,454.4 2090.5,440.7 2101.2,431.6 2111.8,422.0 2122.5,412.5 2133.2,405.9 2143.8,400.0 2154.4,395.5 2165.1,391.2 2175.8,383.6 2186.4,378.5 2197.0,374.6 2207.7,372.1 2218.3,369.5 2229.0,364.8 2239.7,362.6 2250.3,360.6 2260.9,359.0 2271.6,360.8 2282.2,366.1 2292.9,372.0 2303.5,374.8 2314.2,376.2 2324.8,378.8 2335.5,379.8 2346.2,377.1 2356.8,375.7 2367.4,374.9 2378.1,369.9 2388.8,366.3 2399.4,360.9 2410.0,351.2 2420.7,349.9 2431.3,350.2 2442.0,350.2 2452.7,350.2 2463.3,352.1 2473.9,358.8 2484.6,362.8 2495.2,369.1 2505.9,368.1 2516.5,369.5 2527.2,373.7 2537.8,382.5 2548.5,388.1 2559.2,393.9 2569.8,397.2 2580.4,406.6 2591.1,414.4 2601.8,422.4 2612.4,428.2 2623.0,430.4 2633.7,431.6 2644.3,434.1 2655.0,436.5 2665.7,439.5 2676.3,440.6 2686.9,440.3 2697.6,440.9 2708.2,437.5 2718.9,432.2 2729.5,426.5 2740.2,421.4 2750.8,418.0 2761.5,414.6 2772.2,409.5 2782.8,405.4 2793.4,400.8 2804.1,398.8 2814.8,396.8 2825.4,395.7 2836.0,398.8 2846.7,402.4 2857.3,403.8 2868.0,411.6 2878.7,417.7 2889.3,423.3 2899.9,424.4 2910.6,422.1 2921.2,420.5 2931.9,412.0 2942.5,401.4 2953.2,389.3 2963.8,378.2 2974.5,366.5 2985.2,354.4 2995.8,348.3 3006.4,339.9 3017.1,334.1" fill="none" stroke="#ff5252" stroke-width="2.6" stroke-linejoin="round" stroke-linecap="round"/>
<g shape-rendering="crispEdges">
<rect x="23" y="745" width="2" height="23" fill="#0c9c8b"/>
<rect x="19" y="747" width="10" height="20" fill="#9598a1"/>
<rect x="21" y="749" width="6" height="16" fill="#26a69a"/>
<rect x="34" y="685" width="2" height="65" fill="#0c9c8b"/>
<rect x="30" y="701" width="10" height="46" fill="#9598a1"/>
<rect x="32" y="703" width="6" height="42" fill="#26a69a"/>
<rect x="45" y="663" width="2" height="54" fill="#0c9c8b"/>
<rect x="41" y="679" width="10" height="23" fill="#9598a1"/>
<rect x="43" y="681" width="6" height="19" fill="#26a69a"/>
<rect x="55" y="667" width="2" height="24" fill="#0c9c8b"/>
<rect x="51" y="677" width="10" height="3" fill="#9598a1"/>
<rect x="66" y="665" width="2" height="29" fill="#0c9c8b"/>
<rect x="62" y="674" width="10" height="5" fill="#9598a1"/>
<rect x="64" y="676" width="6" height="1" fill="#26a69a"/>
<rect x="77" y="599" width="2" height="84" fill="#0c9c8b"/>
<rect x="73" y="605" width="10" height="70" fill="#9598a1"/>
<rect x="75" y="607" width="6" height="66" fill="#26a69a"/>
<rect x="87" y="595" width="2" height="121" fill="#ef4342"/>
<rect x="83" y="605" width="10" height="99" fill="#ef5350"/>
<rect x="98" y="696" width="2" height="91" fill="#ef4342"/>
<rect x="94" y="701" width="10" height="38" fill="#ef5350"/>
<rect x="109" y="731" width="2" height="82" fill="#ef4342"/>
<rect x="105" y="738" width="10" height="49" fill="#ef5350"/>
<rect x="119" y="722" width="2" height="71" fill="#0c9c8b"/>
<rect x="115" y="744" width="10" height="42" fill="#9598a1"/>
<rect x="117" y="746" width="6" height="38" fill="#26a69a"/>
<rect x="130" y="738" width="2" height="23" fill="#ef4342"/>
<rect x="126" y="743" width="10" height="4" fill="#ef5350"/>
<rect x="141" y="729" width="2" height="34" fill="#ef4342"/>
<rect x="137" y="745" width="10" height="3" fill="#ef5350"/>
<rect x="151" y="719" width="2" height="134" fill="#ef4342"/>
<rect x="147" y="746" width="10" height="3" fill="#ef5350"/>
<rect x="162" y="693" width="2" height="58" fill="#0c9c8b"/>
<rect x="158" y="709" width="10" height="40" fill="#9598a1"/>
<rect x="160" y="711" width="6" height="36" fill="#26a69a"/>
<rect x="173" y="633" width="2" height="79" fill="#0c9c8b"/>
<rect x="169" y="636" width="10" height="74" fill="#9598a1"/>
<rect x="171" y="638" width="6" height="70" fill="#26a69a"/>
<rect x="183" y="629" width="2" height="65" fill="#ef4342"/>
<rect x="179" y="636" width="10" height="10" fill="#ef5350"/>
<rect x="194" y="540" width="2" height="107" fill="#0c9c8b"/>
<rect x="190" y="572" width="10" height="73" fill="#9598a1"/>
<rect x="192" y="574" width="6" height="69" fill="#26a69a"/>
<rect x="204" y="556" width="2" height="48" fill="#0c9c8b"/>
<rect x="200" y="564" width="10" height="9" fill="#9598a1"/>
<rect x="202" y="566" width="6" height="5" fill="#26a69a"/>
<rect x="215" y="531" width="2" height="120" fill="#ef4342"/>
<rect x="211" y="564" width="10" height="58" fill="#ef5350"/>
<rect x="226" y="478" width="2" height="175" fill="#0c9c8b"/>
<rect x="222" y="604" width="10" height="18" fill="#9598a1"/>
<rect x="224" y="606" width="6" height="14" fill="#26a69a"/>
<rect x="236" y="516" width="2" height="127" fill="#0c9c8b"/>
<rect x="232" y="536" width="10" height="69" fill="#9598a1"/>
<rect x="234" y="538" width="6" height="65" fill="#26a69a"/>
<rect x="247" y="532" width="2" height="53" fill="#ef4342"/>
<rect x="243" y="536" width="10" height="44" fill="#ef5350"/>
<rect x="258" y="524" width="2" height="98" fill="#0c9c8b"/>
<rect x="254" y="575" width="10" height="5" fill="#9598a1"/>
<rect x="256" y="577" width="6" height="1" fill="#26a69a"/>
<rect x="268" y="519" width="2" height="76" fill="#0c9c8b"/>
<rect x="264" y="559" width="10" height="17" fill="#9598a1"/>
<rect x="266" y="561" width="6" height="13" fill="#26a69a"/>
<rect x="279" y="551" width="2" height="21" fill="#ef4342"/>
<rect x="275" y="558" width="10" height="3" fill="#ef5350"/>
<rect x="290" y="547" width="2" height="53" fill="#ef4342"/>
<rect x="286" y="560" width="10" height="39" fill="#ef5350"/>
<rect x="300" y="586" width="2" height="100" fill="#ef4342"/>
<rect x="296" y="598" width="10" height="10" fill="#ef5350"/>
<rect x="311" y="577" width="2" height="63" fill="#ef4342"/>
<rect x="307" y="607" width="10" height="15" fill="#ef5350"/>
<rect x="322" y="560" width="2" height="62" fill="#0c9c8b"/>
<rect x="318" y="578" width="10" height="44" fill="#9598a1"/>
<rect x="320" y="580" width="6" height="40" fill="#26a69a"/>
<rect x="332" y="531" width="2" height="55" fill="#0c9c8b"/>
<rect x="328" y="561" width="10" height="17" fill="#9598a1"/>
<rect x="330" y="563" width="6" height="13" fill="#26a69a"/>
<rect x="343" y="538" width="2" height="79" fill="#ef4342"/>
<rect x="339" y="561" width="10" height="41" fill="#ef5350"/>
<rect x="354" y="594" width="2" height="46" fill="#ef4342"/>
<rect x="350" y="601" width="10" height="33" fill="#ef5350"/>
<rect x="364" y="616" width="2" height="101" fill="#ef4342"/>
<rect x="360" y="632" width="10" height="57" fill="#ef5350"/>
<rect x="375" y="600" width="2" height="213" fill="#0c9c8b"/>
<rect x="371" y="621" width="10" height="68" fill="#9598a1"/>
<rect x="373" y="623" width="6" height="64" fill="#26a69a"/>
<rect x="386" y="614" width="2" height="103" fill="#ef4342"/>
<rect x="382" y="621" width="10" height="66" fill="#ef5350"/>
<rect x="396" y="660" width="2" height="57" fill="#ef4342"/>
<rect x="392" y="686" width="10" height="23" fill="#ef5350"/>
<rect x="407" y="660" width="2" height="66" fill="#ef4342"/>
<rect x="403" y="707" width="10" height="3" fill="#ef5350"/>
<rect x="418" y="643" width="2" height="84" fill="#ef4342"/>
<rect x="414" y="708" width="10" height="3" fill="#ef5350"/>
<rect x="428" y="703" width="2" height="23" fill="#ef4342"/>
<rect x="424" y="709" width="10" height="2" fill="#ef5350"/>
<rect x="439" y="695" width="2" height="49" fill="#0c9c8b"/>
<rect x="435" y="710" width="10" height="2" fill="#9598a1"/>
<rect x="449" y="676" width="2" height="58" fill="#0c9c8b"/>
<rect x="445" y="694" width="10" height="17" fill="#9598a1"/>
<rect x="447" y="696" width="6" height="13" fill="#26a69a"/>
<rect x="460" y="673" width="2" height="68" fill="#ef4342"/>
<rect x="456" y="693" width="10" height="32" fill="#ef5350"/>
<rect x="471" y="680" width="2" height="76" fill="#0c9c8b"/>
<rect x="467" y="684" width="10" height="40" fill="#9598a1"/>
<rect x="469" y="686" width="6" height="36" fill="#26a69a"/>
<rect x="481" y="680" width="2" height="55" fill="#ef4342"/>
<rect x="477" y="684" width="10" height="25" fill="#ef5350"/>
<rect x="492" y="667" width="2" height="48" fill="#0c9c8b"/>
<rect x="488" y="691" width="10" height="17" fill="#9598a1"/>
<rect x="490" y="693" width="6" height="13" fill="#26a69a"/>
<rect x="503" y="682" width="2" height="15" fill="#0c9c8b"/>
<rect x="499" y="690" width="10" height="2" fill="#9598a1"/>
<rect x="513" y="688" width="2" height="31" fill="#ef4342"/>
<rect x="509" y="690" width="10" height="28" fill="#ef5350"/>
<rect x="524" y="700" width="2" height="35" fill="#ef4342"/>
<rect x="520" y="716" width="10" height="9" fill="#ef5350"/>
<rect x="535" y="705" width="2" height="65" fill="#ef4342"/>
<rect x="531" y="723" width="10" height="4" fill="#ef5350"/>
<rect x="545" y="703" width="2" height="35" fill="#0c9c8b"/>
<rect x="541" y="707" width="10" height="19" fill="#9598a1"/>
<rect x="543" y="709" width="6" height="15" fill="#26a69a"/>
<rect x="556" y="669" width="2" height="43" fill="#0c9c8b"/>
<rect x="552" y="676" width="10" height="31" fill="#9598a1"/>
<rect x="554" y="678" width="6" height="27" fill="#26a69a"/>
<rect x="567" y="655" width="2" height="86" fill="#ef4342"/>
<rect x="563" y="675" width="10" height="41" fill="#ef5350"/>
<rect x="577" y="701" width="2" height="23" fill="#0c9c8b"/>
<rect x="573" y="710" width="10" height="6" fill="#9598a1"/>
<rect x="575" y="712" width="6" height="2" fill="#26a69a"/>
<rect x="588" y="707" width="2" height="27" fill="#ef4342"/>
<rect x="584" y="709" width="10" height="7" fill="#ef5350"/>
<rect x="599" y="710" width="2" height="100" fill="#ef4342"/>
<rect x="595" y="715" width="10" height="91" fill="#ef5350"/>
<rect x="609" y="787" width="2" height="132" fill="#ef4342"/>
<rect x="605" y="805" width="10" height="60" fill="#ef5350"/>
<rect x="620" y="849" width="2" height="153" fill="#ef4342"/>
<rect x="616" y="864" width="10" height="95" fill="#ef5350"/>
<rect x="631" y="898" width="2" height="94" fill="#0c9c8b"/>
<rect x="627" y="948" width="10" height="11" fill="#9598a1"/>
<rect x="629" y="950" width="6" height="7" fill="#26a69a"/>
<rect x="641" y="939" width="2" height="154" fill="#ef4342"/>
<rect x="637" y="948" width="10" height="9" fill="#ef5350"/>
<rect x="652" y="909" width="2" height="58" fill="#0c9c8b"/>
<rect x="648" y="919" width="10" height="37" fill="#9598a1"/>
<rect x="650" y="921" width="6" height="33" fill="#26a69a"/>
<rect x="662" y="739" width="2" height="202" fill="#0c9c8b"/>
<rect x="658" y="753" width="10" height="166" fill="#9598a1"/>
<rect x="660" y="755" width="6" height="162" fill="#26a69a"/>
<rect x="673" y="750" width="2" height="189" fill="#ef4342"/>
<rect x="669" y="753" width="10" height="163" fill="#ef5350"/>
<rect x="684" y="858" width="2" height="161" fill="#0c9c8b"/>
<rect x="680" y="893" width="10" height="23" fill="#9598a1"/>
<rect x="682" y="895" width="6" height="19" fill="#26a69a"/>
<rect x="694" y="817" width="2" height="96" fill="#0c9c8b"/>
<rect x="690" y="825" width="10" height="69" fill="#9598a1"/>
<rect x="692" y="827" width="6" height="65" fill="#26a69a"/>
<rect x="705" y="781" width="2" height="101" fill="#ef4342"/>
<rect x="701" y="825" width="10" height="14" fill="#ef5350"/>
<rect x="716" y="812" width="2" height="137" fill="#ef4342"/>
<rect x="712" y="839" width="10" height="66" fill="#ef5350"/>
<rect x="726" y="900" width="2" height="37" fill="#ef4342"/>
<rect x="722" y="904" width="10" height="13" fill="#ef5350"/>
<rect x="737" y="910" width="2" height="142" fill="#ef4342"/>
<rect x="733" y="916" width="10" height="121" fill="#ef5350"/>
<rect x="748" y="961" width="2" height="150" fill="#ef4342"/>
<rect x="744" y="1036" width="10" height="50" fill="#ef5350"/>
<rect x="758" y="972" width="2" height="159" fill="#0c9c8b"/>
<rect x="754" y="987" width="10" height="99" fill="#9598a1"/>
<rect x="756" y="989" width="6" height="95" fill="#26a69a"/>
<rect x="769" y="952" width="2" height="87" fill="#0c9c8b"/>
<rect x="765" y="970" width="10" height="18" fill="#9598a1"/>
<rect x="767" y="972" width="6" height="14" fill="#26a69a"/>
<rect x="780" y="956" width="2" height="98" fill="#ef4342"/>
<rect x="776" y="970" width="10" height="58" fill="#ef5350"/>
<rect x="790" y="935" width="2" height="99" fill="#0c9c8b"/>
<rect x="786" y="964" width="10" height="64" fill="#9598a1"/>
<rect x="788" y="966" width="6" height="60" fill="#26a69a"/>
<rect x="801" y="949" width="2" height="23" fill="#0c9c8b"/>
<rect x="797" y="956" width="10" height="9" fill="#9598a1"/>
<rect x="799" y="958" width="6" height="5" fill="#26a69a"/>
<rect x="812" y="939" width="2" height="69" fill="#ef4342"/>
<rect x="808" y="955" width="10" height="41" fill="#ef5350"/>
<rect x="822" y="947" width="2" height="50" fill="#0c9c8b"/>
<rect x="818" y="963" width="10" height="32" fill="#9598a1"/>
<rect x="820" y="965" width="6" height="28" fill="#26a69a"/>
<rect x="833" y="960" width="2" height="67" fill="#ef4342"/>
<rect x="829" y="963" width="10" height="29" fill="#ef5350"/>
<rect x="844" y="899" width="2" height="96" fill="#0c9c8b"/>
<rect x="840" y="903" width="10" height="89" fill="#9598a1"/>
<rect x="842" y="905" width="6" height="85" fill="#26a69a"/>
<rect x="854" y="890" width="2" height="81" fill="#ef4342"/>
<rect x="850" y="902" width="10" height="58" fill="#ef5350"/>
<rect x="865" y="945" width="2" height="36" fill="#ef4342"/>
<rect x="861" y="959" width="10" height="3" fill="#ef5350"/>
<rect x="875" y="952" width="2" height="20" fill="#ef4342"/>
<rect x="871" y="960" width="10" height="9" fill="#ef5350"/>
<rect x="886" y="918" width="2" height="49" fill="#0c9c8b"/>
<rect x="882" y="920" width="10" height="47" fill="#9598a1"/>
<rect x="884" y="922" width="6" height="43" fill="#26a69a"/>
<rect x="897" y="863" width="2" height="68" fill="#0c9c8b"/>
<rect x="893" y="890" width="10" height="29" fill="#9598a1"/>
<rect x="895" y="892" width="6" height="25" fill="#26a69a"/>
<rect x="907" y="867" width="2" height="47" fill="#ef4342"/>
<rect x="903" y="890" width="10" height="2" fill="#ef5350"/>
<rect x="918" y="873" width="2" height="50" fill="#ef4342"/>
<rect x="914" y="891" width="10" height="10" fill="#ef5350"/>
<rect x="929" y="884" width="2" height="41" fill="#0c9c8b"/>
<rect x="925" y="894" width="10" height="7" fill="#9598a1"/>
<rect x="927" y="896" width="6" height="3" fill="#26a69a"/>
<rect x="939" y="889" width="2" height="83" fill="#ef4342"/>
<rect x="935" y="894" width="10" height="61" fill="#ef5350"/>
<rect x="950" y="950" width="2" height="65" fill="#ef4342"/>
<rect x="946" y="954" width="10" height="40" fill="#ef5350"/>
<rect x="961" y="974" width="2" height="43" fill="#ef4342"/>
<rect x="957" y="993" width="10" height="7" fill="#ef5350"/>
<rect x="971" y="965" width="2" height="59" fill="#0c9c8b"/>
<rect x="967" y="995" width="10" height="4" fill="#9598a1"/>
<rect x="982" y="929" width="2" height="69" fill="#0c9c8b"/>
<rect x="978" y="938" width="10" height="58" fill="#9598a1"/>
<rect x="980" y="940" width="6" height="54" fill="#26a69a"/>
<rect x="993" y="868" width="2" height="131" fill="#ef4342"/>
<rect x="989" y="938" width="10" height="59" fill="#ef5350"/>
<rect x="1003" y="963" width="2" height="62" fill="#0c9c8b"/>
<rect x="999" y="982" width="10" height="14" fill="#9598a1"/>
<rect x="1001" y="984" width="6" height="10" fill="#26a69a"/>
<rect x="1014" y="948" width="2" height="67" fill="#0c9c8b"/>
<rect x="1010" y="966" width="10" height="15" fill="#9598a1"/>
<rect x="1012" y="968" width="6" height="11" fill="#26a69a"/>
<rect x="1025" y="958" width="2" height="41" fill="#ef4342"/>
<rect x="1021" y="966" width="10" height="8" fill="#ef5350"/>
<rect x="1035" y="967" width="2" height="151" fill="#ef4342"/>
<rect x="1031" y="973" width="10" height="117" fill="#ef5350"/>
<rect x="1046" y="1024" width="2" height="158" fill="#0c9c8b"/>
<rect x="1042" y="1073" width="10" height="16" fill="#9598a1"/>
<rect x="1044" y="1075" width="6" height="12" fill="#26a69a"/>
<rect x="1056" y="1033" width="2" height="107" fill="#ef4342"/>
<rect x="1052" y="1072" width="10" height="67" fill="#ef5350"/>
<rect x="1067" y="972" width="2" height="208" fill="#0c9c8b"/>
<rect x="1063" y="994" width="10" height="145" fill="#9598a1"/>
<rect x="1065" y="996" width="6" height="141" fill="#26a69a"/>
<rect x="1078" y="990" width="2" height="97" fill="#ef4342"/>
<rect x="1074" y="994" width="10" height="67" fill="#ef5350"/>
<rect x="1088" y="957" width="2" height="118" fill="#0c9c8b"/>
<rect x="1084" y="977" width="10" height="84" fill="#9598a1"/>
<rect x="1086" y="979" width="6" height="80" fill="#26a69a"/>
<rect x="1099" y="922" width="2" height="68" fill="#0c9c8b"/>
<rect x="1095" y="937" width="10" height="39" fill="#9598a1"/>
<rect x="1097" y="939" width="6" height="35" fill="#26a69a"/>
<rect x="1110" y="918" width="2" height="66" fill="#ef4342"/>
<rect x="1106" y="936" width="10" height="34" fill="#ef5350"/>
<rect x="1120" y="925" width="2" height="45" fill="#0c9c8b"/>
<rect x="1116" y="952" width="10" height="17" fill="#9598a1"/>
<rect x="1118" y="954" width="6" height="13" fill="#26a69a"/>
<rect x="1131" y="910" width="2" height="62" fill="#ef4342"/>
<rect x="1127" y="951" width="10" height="21" fill="#ef5350"/>
<rect x="1142" y="931" width="2" height="51" fill="#0c9c8b"/>
<rect x="1138" y="963" width="10" height="8" fill="#9598a1"/>
<rect x="1140" y="965" width="6" height="4" fill="#26a69a"/>
<rect x="1152" y="932" width="2" height="36" fill="#0c9c8b"/>
<rect x="1148" y="943" width="10" height="20" fill="#9598a1"/>
<rect x="1150" y="945" width="6" height="16" fill="#26a69a"/>
<rect x="1163" y="939" width="2" height="18" fill="#ef4342"/>
<rect x="1159" y="943" width="10" height="11" fill="#ef5350"/>
<rect x="1174" y="927" width="2" height="29" fill="#0c9c8b"/>
<rect x="1170" y="940" width="10" height="14" fill="#9598a1"/>
<rect x="1172" y="942" width="6" height="10" fill="#26a69a"/>
<rect x="1184" y="935" width="2" height="30" fill="#0c9c8b"/>
<rect x="1180" y="938" width="10" height="3" fill="#9598a1"/>
<rect x="1195" y="869" width="2" height="70" fill="#0c9c8b"/>
<rect x="1191" y="890" width="10" height="49" fill="#9598a1"/>
<rect x="1193" y="892" width="6" height="45" fill="#26a69a"/>
<rect x="1206" y="760" width="2" height="138" fill="#0c9c8b"/>
<rect x="1202" y="769" width="10" height="120" fill="#9598a1"/>
<rect x="1204" y="771" width="6" height="116" fill="#26a69a"/>
<rect x="1216" y="745" width="2" height="54" fill="#0c9c8b"/>
<rect x="1212" y="764" width="10" height="5" fill="#9598a1"/>
<rect x="1214" y="766" width="6" height="1" fill="#26a69a"/>
<rect x="1227" y="758" width="2" height="46" fill="#0c9c8b"/>
<rect x="1223" y="758" width="10" height="6" fill="#9598a1"/>
<rect x="1225" y="760" width="6" height="2" fill="#26a69a"/>
<rect x="1238" y="724" width="2" height="56" fill="#0c9c8b"/>
<rect x="1234" y="746" width="10" height="13" fill="#9598a1"/>
<rect x="1236" y="748" width="6" height="9" fill="#26a69a"/>
<rect x="1248" y="735" width="2" height="26" fill="#ef4342"/>
<rect x="1244" y="745" width="10" height="2" fill="#ef5350"/>
<rect x="1259" y="732" width="2" height="33" fill="#ef4342"/>
<rect x="1255" y="746" width="10" height="18" fill="#ef5350"/>
<rect x="1270" y="727" width="2" height="54" fill="#0c9c8b"/>
<rect x="1266" y="738" width="10" height="25" fill="#9598a1"/>
<rect x="1268" y="740" width="6" height="21" fill="#26a69a"/>
<rect x="1280" y="730" width="2" height="33" fill="#ef4342"/>
<rect x="1276" y="738" width="10" height="16" fill="#ef5350"/>
<rect x="1291" y="734" width="2" height="45" fill="#ef4342"/>
<rect x="1287" y="752" width="10" height="2" fill="#ef5350"/>
<rect x="1301" y="693" width="2" height="63" fill="#0c9c8b"/>
<rect x="1297" y="710" width="10" height="45" fill="#9598a1"/>
<rect x="1299" y="712" width="6" height="41" fill="#26a69a"/>
<rect x="1312" y="684" width="2" height="29" fill="#0c9c8b"/>
<rect x="1308" y="703" width="10" height="8" fill="#9598a1"/>
<rect x="1310" y="705" width="6" height="4" fill="#26a69a"/>
<rect x="1323" y="702" width="2" height="22" fill="#ef4342"/>
<rect x="1319" y="702" width="10" height="21" fill="#ef5350"/>
<rect x="1333" y="714" width="2" height="41" fill="#ef4342"/>
<rect x="1329" y="722" width="10" height="32" fill="#ef5350"/>
<rect x="1344" y="735" width="2" height="32" fill="#0c9c8b"/>
<rect x="1340" y="744" width="10" height="10" fill="#9598a1"/>
<rect x="1342" y="746" width="6" height="6" fill="#26a69a"/>
<rect x="1355" y="702" width="2" height="68" fill="#0c9c8b"/>
<rect x="1351" y="704" width="10" height="41" fill="#9598a1"/>
<rect x="1353" y="706" width="6" height="37" fill="#26a69a"/>
<rect x="1365" y="687" width="2" height="37" fill="#0c9c8b"/>
<rect x="1361" y="700" width="10" height="5" fill="#9598a1"/>
<rect x="1363" y="702" width="6" height="1" fill="#26a69a"/>
<rect x="1376" y="571" width="2" height="132" fill="#0c9c8b"/>
<rect x="1372" y="586" width="10" height="115" fill="#9598a1"/>
<rect x="1374" y="588" width="6" height="111" fill="#26a69a"/>
<rect x="1387" y="567" width="2" height="36" fill="#ef4342"/>
<rect x="1383" y="586" width="10" height="7" fill="#ef5350"/>
<rect x="1397" y="556" width="2" height="38" fill="#0c9c8b"/>
<rect x="1393" y="559" width="10" height="34" fill="#9598a1"/>
<rect x="1395" y="561" width="6" height="30" fill="#26a69a"/>
<rect x="1408" y="556" width="2" height="29" fill="#ef4342"/>
<rect x="1404" y="559" width="10" height="13" fill="#ef5350"/>
<rect x="1419" y="542" width="2" height="90" fill="#ef4342"/>
<rect x="1415" y="571" width="10" height="25" fill="#ef5350"/>
<rect x="1429" y="556" width="2" height="63" fill="#0c9c8b"/>
<rect x="1425" y="572" width="10" height="24" fill="#9598a1"/>
<rect x="1427" y="574" width="6" height="20" fill="#26a69a"/>
<rect x="1440" y="566" width="2" height="32" fill="#ef4342"/>
<rect x="1436" y="571" width="10" height="12" fill="#ef5350"/>
<rect x="1451" y="569" width="2" height="51" fill="#0c9c8b"/>
<rect x="1447" y="578" width="10" height="5" fill="#9598a1"/>
<rect x="1449" y="580" width="6" height="1" fill="#26a69a"/>
<rect x="1461" y="564" width="2" height="25" fill="#ef4342"/>
<rect x="1457" y="578" width="10" height="6" fill="#ef5350"/>
<rect x="1472" y="579" width="2" height="19" fill="#ef4342"/>
<rect x="1468" y="583" width="10" height="7" fill="#ef5350"/>
<rect x="1482" y="526" width="2" height="64" fill="#0c9c8b"/>
<rect x="1478" y="531" width="10" height="59" fill="#9598a1"/>
<rect x="1480" y="533" width="6" height="55" fill="#26a69a"/>
<rect x="1493" y="520" width="2" height="89" fill="#ef4342"/>
<rect x="1489" y="531" width="10" height="16" fill="#ef5350"/>
<rect x="1504" y="516" width="2" height="54" fill="#0c9c8b"/>
<rect x="1500" y="524" width="10" height="23" fill="#9598a1"/>
<rect x="1502" y="526" width="6" height="19" fill="#26a69a"/>
<rect x="1514" y="458" width="2" height="79" fill="#0c9c8b"/>
<rect x="1510" y="478" width="10" height="47" fill="#9598a1"/>
<rect x="1512" y="480" width="6" height="43" fill="#26a69a"/>
<rect x="1525" y="438" width="2" height="47" fill="#0c9c8b"/>
<rect x="1521" y="443" width="10" height="35" fill="#9598a1"/>
<rect x="1523" y="445" width="6" height="31" fill="#26a69a"/>
<rect x="1536" y="441" width="2" height="84" fill="#ef4342"/>
<rect x="1532" y="442" width="10" height="75" fill="#ef5350"/>
<rect x="1546" y="478" width="2" height="46" fill="#0c9c8b"/>
<rect x="1542" y="509" width="10" height="8" fill="#9598a1"/>
<rect x="1544" y="511" width="6" height="4" fill="#26a69a"/>
<rect x="1557" y="483" width="2" height="45" fill="#0c9c8b"/>
<rect x="1553" y="488" width="10" height="22" fill="#9598a1"/>
<rect x="1555" y="490" width="6" height="18" fill="#26a69a"/>
<rect x="1568" y="464" width="2" height="29" fill="#0c9c8b"/>
<rect x="1564" y="480" width="10" height="9" fill="#9598a1"/>
<rect x="1566" y="482" width="6" height="5" fill="#26a69a"/>
<rect x="1578" y="458" width="2" height="55" fill="#ef4342"/>
<rect x="1574" y="480" width="10" height="10" fill="#ef5350"/>
<rect x="1589" y="483" width="2" height="42" fill="#ef4342"/>
<rect x="1585" y="488" width="10" height="21" fill="#ef5350"/>
<rect x="1600" y="489" width="2" height="61" fill="#ef4342"/>
<rect x="1596" y="508" width="10" height="40" fill="#ef5350"/>
<rect x="1610" y="533" width="2" height="47" fill="#ef4342"/>
<rect x="1606" y="546" width="10" height="29" fill="#ef5350"/>
<rect x="1621" y="558" width="2" height="32" fill="#0c9c8b"/>
<rect x="1617" y="563" width="10" height="12" fill="#9598a1"/>
<rect x="1619" y="565" width="6" height="8" fill="#26a69a"/>
<rect x="1632" y="540" width="2" height="38" fill="#0c9c8b"/>
<rect x="1628" y="545" width="10" height="19" fill="#9598a1"/>
<rect x="1630" y="547" width="6" height="15" fill="#26a69a"/>
<rect x="1642" y="538" width="2" height="41" fill="#0c9c8b"/>
<rect x="1638" y="541" width="10" height="5" fill="#9598a1"/>
<rect x="1640" y="543" width="6" height="1" fill="#26a69a"/>
<rect x="1653" y="525" width="2" height="33" fill="#ef4342"/>
<rect x="1649" y="541" width="10" height="9" fill="#ef5350"/>
<rect x="1664" y="539" width="2" height="31" fill="#ef4342"/>
<rect x="1660" y="549" width="10" height="13" fill="#ef5350"/>
<rect x="1674" y="540" width="2" height="98" fill="#ef4342"/>
<rect x="1670" y="560" width="10" height="59" fill="#ef5350"/>
<rect x="1685" y="550" width="2" height="75" fill="#0c9c8b"/>
<rect x="1681" y="568" width="10" height="51" fill="#9598a1"/>
<rect x="1683" y="570" width="6" height="47" fill="#26a69a"/>
<rect x="1696" y="540" width="2" height="36" fill="#0c9c8b"/>
<rect x="1692" y="546" width="10" height="23" fill="#9598a1"/>
<rect x="1694" y="548" width="6" height="19" fill="#26a69a"/>
<rect x="1706" y="530" width="2" height="27" fill="#0c9c8b"/>
<rect x="1702" y="543" width="10" height="4" fill="#9598a1"/>
<rect x="1717" y="462" width="2" height="88" fill="#0c9c8b"/>
<rect x="1713" y="467" width="10" height="76" fill="#9598a1"/>
<rect x="1715" y="469" width="6" height="72" fill="#26a69a"/>
<rect x="1727" y="464" width="2" height="35" fill="#0c9c8b"/>
<rect x="1723" y="465" width="10" height="2" fill="#9598a1"/>
<rect x="1738" y="465" width="2" height="38" fill="#ef4342"/>
<rect x="1734" y="466" width="10" height="29" fill="#ef5350"/>
<rect x="1749" y="491" width="2" height="54" fill="#ef4342"/>
<rect x="1745" y="493" width="10" height="52" fill="#ef5350"/>
<rect x="1759" y="536" width="2" height="61" fill="#0c9c8b"/>
<rect x="1755" y="537" width="10" height="8" fill="#9598a1"/>
<rect x="1757" y="539" width="6" height="4" fill="#26a69a"/>
<rect x="1770" y="534" width="2" height="34" fill="#ef4342"/>
<rect x="1766" y="537" width="10" height="13" fill="#ef5350"/>
<rect x="1781" y="536" width="2" height="29" fill="#0c9c8b"/>
<rect x="1777" y="546" width="10" height="4" fill="#9598a1"/>
<rect x="1791" y="488" width="2" height="68" fill="#0c9c8b"/>
<rect x="1787" y="525" width="10" height="22" fill="#9598a1"/>
<rect x="1789" y="527" width="6" height="18" fill="#26a69a"/>
<rect x="1802" y="508" width="2" height="76" fill="#ef4342"/>
<rect x="1798" y="524" width="10" height="41" fill="#ef5350"/>
<rect x="1813" y="546" width="2" height="36" fill="#0c9c8b"/>
<rect x="1809" y="558" width="10" height="7" fill="#9598a1"/>
<rect x="1811" y="560" width="6" height="3" fill="#26a69a"/>
<rect x="1823" y="552" width="2" height="23" fill="#ef4342"/>
<rect x="1819" y="558" width="10" height="5" fill="#ef5350"/>
<rect x="1834" y="530" width="2" height="73" fill="#ef4342"/>
<rect x="1830" y="562" width="10" height="25" fill="#ef5350"/>
<rect x="1845" y="574" width="2" height="55" fill="#ef4342"/>
<rect x="1841" y="585" width="10" height="23" fill="#ef5350"/>
<rect x="1855" y="584" width="2" height="94" fill="#ef4342"/>
<rect x="1851" y="607" width="10" height="22" fill="#ef5350"/>
<rect x="1866" y="537" width="2" height="115" fill="#0c9c8b"/>
<rect x="1862" y="550" width="10" height="79" fill="#9598a1"/>
<rect x="1864" y="552" width="6" height="75" fill="#26a69a"/>
<rect x="1877" y="534" width="2" height="28" fill="#0c9c8b"/>
<rect x="1873" y="538" width="10" height="13" fill="#9598a1"/>
<rect x="1875" y="540" width="6" height="9" fill="#26a69a"/>
<rect x="1887" y="502" width="2" height="39" fill="#0c9c8b"/>
<rect x="1883" y="516" width="10" height="22" fill="#9598a1"/>
<rect x="1885" y="518" width="6" height="18" fill="#26a69a"/>
<rect x="1898" y="500" width="2" height="29" fill="#ef4342"/>
<rect x="1894" y="516" width="10" height="7" fill="#ef5350"/>
<rect x="1908" y="509" width="2" height="23" fill="#0c9c8b"/>
<rect x="1904" y="520" width="10" height="2" fill="#9598a1"/>
<rect x="1919" y="512" width="2" height="13" fill="#0c9c8b"/>
<rect x="1915" y="516" width="10" height="6" fill="#9598a1"/>
<rect x="1917" y="518" width="6" height="2" fill="#26a69a"/>
<rect x="1930" y="496" width="2" height="23" fill="#0c9c8b"/>
<rect x="1926" y="498" width="10" height="19" fill="#9598a1"/>
<rect x="1928" y="500" width="6" height="15" fill="#26a69a"/>
<rect x="1940" y="491" width="2" height="35" fill="#ef4342"/>
<rect x="1936" y="498" width="10" height="22" fill="#ef5350"/>
<rect x="1951" y="512" width="2" height="40" fill="#ef4342"/>
<rect x="1947" y="519" width="10" height="27" fill="#ef5350"/>
<rect x="1962" y="475" width="2" height="79" fill="#0c9c8b"/>
<rect x="1958" y="490" width="10" height="55" fill="#9598a1"/>
<rect x="1960" y="492" width="6" height="51" fill="#26a69a"/>
<rect x="1972" y="462" width="2" height="34" fill="#0c9c8b"/>
<rect x="1968" y="479" width="10" height="12" fill="#9598a1"/>
<rect x="1970" y="481" width="6" height="8" fill="#26a69a"/>
<rect x="1983" y="475" width="2" height="42" fill="#ef4342"/>
<rect x="1979" y="478" width="10" height="28" fill="#ef5350"/>
<rect x="1994" y="497" width="2" height="12" fill="#0c9c8b"/>
<rect x="1990" y="501" width="10" height="5" fill="#9598a1"/>
<rect x="1992" y="503" width="6" height="1" fill="#26a69a"/>
<rect x="2004" y="476" width="2" height="31" fill="#0c9c8b"/>
<rect x="2000" y="485" width="10" height="17" fill="#9598a1"/>
<rect x="2002" y="487" width="6" height="13" fill="#26a69a"/>
<rect x="2015" y="476" width="2" height="36" fill="#ef4342"/>
<rect x="2011" y="484" width="10" height="17" fill="#ef5350"/>
<rect x="2026" y="484" width="2" height="30" fill="#0c9c8b"/>
<rect x="2022" y="489" width="10" height="12" fill="#9598a1"/>
<rect x="2024" y="491" width="6" height="8" fill="#26a69a"/>
<rect x="2036" y="438" width="2" height="61" fill="#0c9c8b"/>
<rect x="2032" y="451" width="10" height="39" fill="#9598a1"/>
<rect x="2034" y="453" width="6" height="35" fill="#26a69a"/>
<rect x="2047" y="360" width="2" height="103" fill="#0c9c8b"/>
<rect x="2043" y="374" width="10" height="78" fill="#9598a1"/>
<rect x="2045" y="376" width="6" height="74" fill="#26a69a"/>
<rect x="2058" y="329" width="2" height="57" fill="#0c9c8b"/>
<rect x="2054" y="350" width="10" height="25" fill="#9598a1"/>
<rect x="2056" y="352" width="6" height="21" fill="#26a69a"/>
<rect x="2068" y="340" width="2" height="20" fill="#ef4342"/>
<rect x="2064" y="349" width="10" height="2" fill="#ef5350"/>
<rect x="2079" y="320" width="2" height="35" fill="#0c9c8b"/>
<rect x="2075" y="326" width="10" height="27" fill="#9598a1"/>
<rect x="2077" y="328" width="6" height="23" fill="#26a69a"/>
<rect x="2090" y="264" width="2" height="65" fill="#0c9c8b"/>
<rect x="2086" y="315" width="10" height="11" fill="#9598a1"/>
<rect x="2088" y="317" width="6" height="7" fill="#26a69a"/>
<rect x="2100" y="313" width="2" height="65" fill="#ef4342"/>
<rect x="2096" y="315" width="10" height="33" fill="#ef5350"/>
<rect x="2111" y="311" width="2" height="47" fill="#0c9c8b"/>
<rect x="2107" y="333" width="10" height="15" fill="#9598a1"/>
<rect x="2109" y="335" width="6" height="11" fill="#26a69a"/>
<rect x="2122" y="297" width="2" height="54" fill="#0c9c8b"/>
<rect x="2118" y="325" width="10" height="9" fill="#9598a1"/>
<rect x="2120" y="327" width="6" height="5" fill="#26a69a"/>
<rect x="2132" y="300" width="2" height="61" fill="#ef4342"/>
<rect x="2128" y="325" width="10" height="20" fill="#ef5350"/>
<rect x="2143" y="335" width="2" height="19" fill="#ef4342"/>
<rect x="2139" y="343" width="10" height="2" fill="#ef5350"/>
<rect x="2153" y="330" width="2" height="37" fill="#ef4342"/>
<rect x="2149" y="345" width="10" height="10" fill="#ef5350"/>
<rect x="2164" y="317" width="2" height="49" fill="#0c9c8b"/>
<rect x="2160" y="351" width="10" height="2" fill="#9598a1"/>
<rect x="2175" y="308" width="2" height="63" fill="#0c9c8b"/>
<rect x="2171" y="313" width="10" height="40" fill="#9598a1"/>
<rect x="2173" y="315" width="6" height="36" fill="#26a69a"/>
<rect x="2185" y="311" width="2" height="43" fill="#ef4342"/>
<rect x="2181" y="313" width="10" height="19" fill="#ef5350"/>
<rect x="2196" y="320" width="2" height="37" fill="#ef4342"/>
<rect x="2192" y="331" width="10" height="8" fill="#ef5350"/>
<rect x="2207" y="336" width="2" height="58" fill="#ef4342"/>
<rect x="2203" y="338" width="10" height="12" fill="#ef5350"/>
<rect x="2217" y="338" width="2" height="18" fill="#0c9c8b"/>
<rect x="2213" y="344" width="10" height="6" fill="#9598a1"/>
<rect x="2215" y="346" width="6" height="2" fill="#26a69a"/>
<rect x="2228" y="316" width="2" height="30" fill="#0c9c8b"/>
<rect x="2224" y="321" width="10" height="24" fill="#9598a1"/>
<rect x="2226" y="323" width="6" height="20" fill="#26a69a"/>
<rect x="2239" y="315" width="2" height="37" fill="#ef4342"/>
<rect x="2235" y="321" width="10" height="22" fill="#ef5350"/>
<rect x="2249" y="323" width="2" height="36" fill="#ef4342"/>
<rect x="2245" y="341" width="10" height="2" fill="#ef5350"/>
<rect x="2260" y="331" width="2" height="46" fill="#ef4342"/>
<rect x="2256" y="343" width="10" height="2" fill="#ef5350"/>
<rect x="2271" y="329" width="2" height="53" fill="#ef4342"/>
<rect x="2267" y="345" width="10" height="34" fill="#ef5350"/>
<rect x="2281" y="373" width="2" height="53" fill="#ef4342"/>
<rect x="2277" y="378" width="10" height="40" fill="#ef5350"/>
<rect x="2292" y="405" width="2" height="33" fill="#ef4342"/>
<rect x="2288" y="417" width="10" height="13" fill="#ef5350"/>
<rect x="2303" y="393" width="2" height="46" fill="#0c9c8b"/>
<rect x="2299" y="402" width="10" height="28" fill="#9598a1"/>
<rect x="2301" y="404" width="6" height="24" fill="#26a69a"/>
<rect x="2313" y="378" width="2" height="26" fill="#0c9c8b"/>
<rect x="2309" y="389" width="10" height="14" fill="#9598a1"/>
<rect x="2311" y="391" width="6" height="10" fill="#26a69a"/>
<rect x="2324" y="387" width="2" height="41" fill="#ef4342"/>
<rect x="2320" y="389" width="10" height="16" fill="#ef5350"/>
<rect x="2334" y="378" width="2" height="38" fill="#0c9c8b"/>
<rect x="2330" y="390" width="10" height="15" fill="#9598a1"/>
<rect x="2332" y="392" width="6" height="11" fill="#26a69a"/>
<rect x="2345" y="349" width="2" height="53" fill="#0c9c8b"/>
<rect x="2341" y="351" width="10" height="40" fill="#9598a1"/>
<rect x="2343" y="353" width="6" height="36" fill="#26a69a"/>
<rect x="2356" y="349" width="2" height="26" fill="#ef4342"/>
<rect x="2352" y="351" width="10" height="13" fill="#ef5350"/>
<rect x="2366" y="344" width="2" height="25" fill="#ef4342"/>
<rect x="2362" y="363" width="10" height="5" fill="#ef5350"/>
<rect x="2377" y="323" width="2" height="45" fill="#0c9c8b"/>
<rect x="2373" y="323" width="10" height="45" fill="#9598a1"/>
<rect x="2375" y="325" width="6" height="41" fill="#26a69a"/>
<rect x="2388" y="276" width="2" height="66" fill="#ef4342"/>
<rect x="2384" y="323" width="10" height="10" fill="#ef5350"/>
<rect x="2398" y="307" width="2" height="33" fill="#0c9c8b"/>
<rect x="2394" y="310" width="10" height="23" fill="#9598a1"/>
<rect x="2396" y="312" width="6" height="19" fill="#26a69a"/>
<rect x="2409" y="257" width="2" height="72" fill="#0c9c8b"/>
<rect x="2405" y="262" width="10" height="49" fill="#9598a1"/>
<rect x="2407" y="264" width="6" height="45" fill="#26a69a"/>
<rect x="2420" y="245" width="2" height="111" fill="#ef4342"/>
<rect x="2416" y="262" width="10" height="77" fill="#ef5350"/>
<rect x="2430" y="324" width="2" height="37" fill="#ef4342"/>
<rect x="2426" y="338" width="10" height="16" fill="#ef5350"/>
<rect x="2441" y="344" width="2" height="12" fill="#0c9c8b"/>
<rect x="2437" y="351" width="10" height="2" fill="#9598a1"/>
<rect x="2452" y="333" width="2" height="23" fill="#0c9c8b"/>
<rect x="2448" y="350" width="10" height="2" fill="#9598a1"/>
<rect x="2462" y="350" width="2" height="46" fill="#ef4342"/>
<rect x="2458" y="351" width="10" height="20" fill="#ef5350"/>
<rect x="2473" y="363" width="2" height="63" fill="#ef4342"/>
<rect x="2469" y="370" width="10" height="55" fill="#ef5350"/>
<rect x="2484" y="396" width="2" height="36" fill="#0c9c8b"/>
<rect x="2480" y="401" width="10" height="24" fill="#9598a1"/>
<rect x="2482" y="403" width="6" height="20" fill="#26a69a"/>
<rect x="2494" y="393" width="2" height="45" fill="#ef4342"/>
<rect x="2490" y="401" width="10" height="31" fill="#ef5350"/>
<rect x="2505" y="352" width="2" height="91" fill="#0c9c8b"/>
<rect x="2501" y="359" width="10" height="72" fill="#9598a1"/>
<rect x="2503" y="361" width="6" height="68" fill="#26a69a"/>
<rect x="2516" y="358" width="2" height="39" fill="#ef4342"/>
<rect x="2512" y="359" width="10" height="25" fill="#ef5350"/>
<rect x="2526" y="379" width="2" height="81" fill="#ef4342"/>
<rect x="2522" y="383" width="10" height="32" fill="#ef5350"/>
<rect x="2537" y="411" width="2" height="72" fill="#ef4342"/>
<rect x="2533" y="414" width="10" height="56" fill="#ef5350"/>
<rect x="2548" y="432" width="2" height="61" fill="#0c9c8b"/>
<rect x="2544" y="442" width="10" height="27" fill="#9598a1"/>
<rect x="2546" y="444" width="6" height="23" fill="#26a69a"/>
<rect x="2558" y="428" width="2" height="37" fill="#ef4342"/>
<rect x="2554" y="442" width="10" height="9" fill="#ef5350"/>
<rect x="2569" y="414" width="2" height="43" fill="#0c9c8b"/>
<rect x="2565" y="429" width="10" height="22" fill="#9598a1"/>
<rect x="2567" y="431" width="6" height="18" fill="#26a69a"/>
<rect x="2579" y="428" width="2" height="86" fill="#ef4342"/>
<rect x="2575" y="428" width="10" height="71" fill="#ef5350"/>
<rect x="2590" y="488" width="2" height="28" fill="#0c9c8b"/>
<rect x="2586" y="491" width="10" height="8" fill="#9598a1"/>
<rect x="2588" y="493" width="6" height="4" fill="#26a69a"/>
<rect x="2601" y="480" width="2" height="23" fill="#ef4342"/>
<rect x="2597" y="491" width="10" height="10" fill="#ef5350"/>
<rect x="2611" y="471" width="2" height="46" fill="#0c9c8b"/>
<rect x="2607" y="484" width="10" height="17" fill="#9598a1"/>
<rect x="2609" y="486" width="6" height="13" fill="#26a69a"/>
<rect x="2622" y="442" width="2" height="56" fill="#0c9c8b"/>
<rect x="2618" y="451" width="10" height="33" fill="#9598a1"/>
<rect x="2620" y="453" width="6" height="29" fill="#26a69a"/>
<rect x="2633" y="429" width="2" height="33" fill="#0c9c8b"/>
<rect x="2629" y="443" width="10" height="9" fill="#9598a1"/>
<rect x="2631" y="445" width="6" height="5" fill="#26a69a"/>
<rect x="2643" y="434" width="2" height="48" fill="#ef4342"/>
<rect x="2639" y="443" width="10" height="17" fill="#ef5350"/>
<rect x="2654" y="416" width="2" height="52" fill="#ef4342"/>
<rect x="2650" y="458" width="10" height="2" fill="#ef5350"/>
<rect x="2665" y="449" width="2" height="22" fill="#ef4342"/>
<rect x="2661" y="459" width="10" height="10" fill="#ef5350"/>
<rect x="2675" y="445" width="2" height="24" fill="#0c9c8b"/>
<rect x="2671" y="452" width="10" height="17" fill="#9598a1"/>
<rect x="2673" y="454" width="6" height="13" fill="#26a69a"/>
<rect x="2686" y="423" width="2" height="38" fill="#0c9c8b"/>
<rect x="2682" y="438" width="10" height="15" fill="#9598a1"/>
<rect x="2684" y="440" width="6" height="11" fill="#26a69a"/>
<rect x="2697" y="417" width="2" height="41" fill="#ef4342"/>
<rect x="2693" y="437" width="10" height="10" fill="#ef5350"/>
<rect x="2707" y="401" width="2" height="55" fill="#0c9c8b"/>
<rect x="2703" y="406" width="10" height="41" fill="#9598a1"/>
<rect x="2705" y="408" width="6" height="37" fill="#26a69a"/>
<rect x="2718" y="382" width="2" height="33" fill="#0c9c8b"/>
<rect x="2714" y="383" width="10" height="24" fill="#9598a1"/>
<rect x="2716" y="385" width="6" height="20" fill="#26a69a"/>
<rect x="2729" y="364" width="2" height="30" fill="#0c9c8b"/>
<rect x="2725" y="374" width="10" height="9" fill="#9598a1"/>
<rect x="2727" y="376" width="6" height="5" fill="#26a69a"/>
<rect x="2739" y="369" width="2" height="19" fill="#ef4342"/>
<rect x="2735" y="372" width="10" height="3" fill="#ef5350"/>
<rect x="2750" y="371" width="2" height="17" fill="#ef4342"/>
<rect x="2746" y="374" width="10" height="13" fill="#ef5350"/>
<rect x="2760" y="362" width="2" height="38" fill="#0c9c8b"/>
<rect x="2756" y="383" width="10" height="2" fill="#9598a1"/>
<rect x="2771" y="359" width="2" height="35" fill="#0c9c8b"/>
<rect x="2767" y="362" width="10" height="22" fill="#9598a1"/>
<rect x="2769" y="364" width="6" height="18" fill="#26a69a"/>
<rect x="2782" y="354" width="2" height="40" fill="#ef4342"/>
<rect x="2778" y="362" width="10" height="6" fill="#ef5350"/>
<rect x="2792" y="344" width="2" height="29" fill="#0c9c8b"/>
<rect x="2788" y="357" width="10" height="11" fill="#9598a1"/>
<rect x="2790" y="359" width="6" height="7" fill="#26a69a"/>
<rect x="2803" y="351" width="2" height="37" fill="#ef4342"/>
<rect x="2799" y="357" width="10" height="24" fill="#ef5350"/>
<rect x="2814" y="372" width="2" height="11" fill="#0c9c8b"/>
<rect x="2810" y="378" width="10" height="2" fill="#9598a1"/>
<rect x="2824" y="377" width="2" height="10" fill="#ef4342"/>
<rect x="2820" y="379" width="10" height="8" fill="#ef5350"/>
<rect x="2835" y="384" width="2" height="57" fill="#ef4342"/>
<rect x="2831" y="386" width="10" height="43" fill="#ef5350"/>
<rect x="2846" y="417" width="2" height="30" fill="#ef4342"/>
<rect x="2842" y="428" width="10" height="11" fill="#ef5350"/>
<rect x="2856" y="407" width="2" height="47" fill="#0c9c8b"/>
<rect x="2852" y="417" width="10" height="22" fill="#9598a1"/>
<rect x="2854" y="419" width="6" height="18" fill="#26a69a"/>
<rect x="2867" y="414" width="2" height="80" fill="#ef4342"/>
<rect x="2863" y="417" width="10" height="72" fill="#ef5350"/>
<rect x="2878" y="466" width="2" height="28" fill="#0c9c8b"/>
<rect x="2874" y="477" width="10" height="12" fill="#9598a1"/>
<rect x="2876" y="479" width="6" height="8" fill="#26a69a"/>
<rect x="2888" y="475" width="2" height="12" fill="#ef4342"/>
<rect x="2884" y="476" width="10" height="2" fill="#ef5350"/>
<rect x="2899" y="432" width="2" height="52" fill="#0c9c8b"/>
<rect x="2895" y="435" width="10" height="43" fill="#9598a1"/>
<rect x="2897" y="437" width="6" height="39" fill="#26a69a"/>
<rect x="2910" y="399" width="2" height="46" fill="#0c9c8b"/>
<rect x="2906" y="401" width="10" height="34" fill="#9598a1"/>
<rect x="2908" y="403" width="6" height="30" fill="#26a69a"/>
<rect x="2920" y="393" width="2" height="34" fill="#ef4342"/>
<rect x="2916" y="401" width="10" height="5" fill="#ef5350"/>
<rect x="2931" y="333" width="2" height="73" fill="#0c9c8b"/>
<rect x="2927" y="334" width="10" height="72" fill="#9598a1"/>
<rect x="2929" y="336" width="6" height="68" fill="#26a69a"/>
<rect x="2942" y="297" width="2" height="41" fill="#0c9c8b"/>
<rect x="2938" y="304" width="10" height="31" fill="#9598a1"/>
<rect x="2940" y="306" width="6" height="27" fill="#26a69a"/>
<rect x="2952" y="254" width="2" height="70" fill="#0c9c8b"/>
<rect x="2948" y="278" width="10" height="27" fill="#9598a1"/>
<rect x="2950" y="280" width="6" height="23" fill="#26a69a"/>
<rect x="2963" y="270" width="2" height="19" fill="#0c9c8b"/>
<rect x="2959" y="276" width="10" height="3" fill="#9598a1"/>
<rect x="2974" y="227" width="2" height="53" fill="#0c9c8b"/>
<rect x="2970" y="260" width="10" height="17" fill="#9598a1"/>
<rect x="2972" y="262" width="6" height="13" fill="#26a69a"/>
<rect x="2984" y="220" width="2" height="46" fill="#0c9c8b"/>
<rect x="2980" y="243" width="10" height="18" fill="#9598a1"/>
<rect x="2982" y="245" width="6" height="14" fill="#26a69a"/>
<rect x="2995" y="236" width="2" height="67" fill="#ef4342"/>
<rect x="2991" y="243" width="10" height="50" fill="#ef5350"/>
<rect x="3005" y="249" width="2" height="47" fill="#0c9c8b"/>
<rect x="3001" y="262" width="10" height="31" fill="#9598a1"/>
<rect x="3003" y="264" width="6" height="27" fill="#26a69a"/>
<rect x="3016" y="262" width="2" height="28" fill="#ef4342"/>
<rect x="3012" y="262" width="10" height="19" fill="#ef5350"/>
</g>
</g>
<line x1="25" y1="280" x2="3424" y2="280" stroke="#ea2424" stroke-width="2" stroke-dasharray="2,4"/>
<rect x="25" y="1334" width="3399" height="94" fill="#7e57c2" fill-opacity="0.1"/>
<line x1="25" y1="1334" x2="3424" y2="1334" stroke="#787b86" stroke-width="2" stroke-dasharray="10,12"/>
<line x1="25" y1="1371" x2="3424" y2="1371" stroke="#b2b5be" stroke-width="2" stroke-dasharray="10,12"/>
<line x1="25" y1="1428" x2="3424" y2="1428" stroke="#787b86" stroke-width="2" stroke-dasharray="10,12"/>
<clipPath id="cr"><rect x="25" y="1299" width="3399" height="157"/></clipPath>
<linearGradient id="og" gradientUnits="userSpaceOnUse" x1="0" y1="1294.4" x2="0" y2="1334"><stop offset="0" stop-color="#4caf50" stop-opacity="1"/><stop offset="1" stop-color="#4caf50" stop-opacity="0"/></linearGradient>
<clipPath id="co"><rect x="25" y="1299" width="3399" height="35"/></clipPath>
<polygon points="24.4,1334 24.4,1379.7 35.1,1366.9 45.8,1362.3 56.4,1362.0 67.0,1361.2 77.7,1346.9 88.4,1372.0 99.0,1379.7 109.7,1390.4 120.3,1378.9 130.9,1379.4 141.6,1379.7 152.2,1379.7 162.9,1368.1 173.5,1352.8 184.2,1355.3 194.8,1342.5 205.5,1341.2 216.2,1356.1 226.8,1352.8 237.4,1342.5 248.1,1352.0 258.8,1351.3 269.4,1348.4 280.1,1348.9 290.7,1359.8 301.4,1362.6 312.0,1366.6 322.6,1356.0 333.3,1352.2 343.9,1364.4 354.6,1373.7 365.2,1388.7 375.9,1369.2 386.6,1384.7 397.2,1389.7 407.9,1389.9 418.5,1390.2 429.1,1390.4 439.8,1390.1 450.4,1383.6 461.1,1393.2 471.8,1377.6 482.4,1384.9 493.1,1378.7 503.7,1378.1 514.4,1387.1 525.0,1389.7 535.7,1390.3 546.3,1381.3 557.0,1368.9 567.6,1383.0 578.3,1380.7 588.9,1382.7 599.6,1413.4 610.2,1430.1 620.9,1453.3 631.5,1446.5 642.2,1448.4 652.8,1424.3 663.5,1368.8 674.1,1398.6 684.8,1393.1 695.4,1378.4 706.1,1380.8 716.7,1392.0 727.4,1394.1 738.0,1413.4 748.7,1420.5 759.3,1395.4 770.0,1391.8 780.6,1400.3 791.3,1386.7 801.9,1385.1 812.6,1391.4 823.2,1384.4 833.9,1389.3 844.5,1371.6 855.2,1380.9 865.8,1381.4 876.5,1382.5 887.1,1372.4 897.8,1366.8 908.4,1367.1 919.1,1369.1 929.7,1367.7 940.4,1381.4 951.0,1389.8 961.7,1391.1 972.3,1390.0 983.0,1373.6 993.6,1386.8 1004.3,1382.8 1014.9,1378.4 1025.5,1380.2 1036.2,1406.8 1046.9,1401.0 1057.5,1414.6 1068.2,1375.2 1078.8,1386.8 1089.5,1370.8 1100.1,1364.4 1110.8,1370.0 1121.4,1367.1 1132.1,1370.7 1142.7,1369.3 1153.4,1365.3 1164.0,1367.6 1174.7,1364.9 1185.3,1364.4 1196.0,1354.6 1206.6,1337.9 1217.2,1337.3 1227.9,1336.6 1238.6,1335.2 1249.2,1335.2 1259.9,1340.1 1270.5,1336.6 1281.2,1341.1 1291.8,1341.2 1302.5,1334.4 1313.1,1333.4 1323.8,1340.1 1334.4,1350.4 1345.1,1348.4 1355.7,1340.6 1366.4,1339.9 1377.0,1325.0 1387.7,1326.8 1398.3,1323.5 1409.0,1327.4 1419.6,1335.1 1430.2,1331.9 1440.9,1335.2 1451.6,1334.7 1462.2,1336.6 1472.9,1338.8 1483.5,1329.3 1494.2,1334.9 1504.8,1331.4 1515.5,1325.4 1526.1,1321.7 1536.8,1345.1 1547.4,1343.9 1558.1,1340.4 1568.7,1339.1 1579.4,1342.1 1590.0,1348.8 1600.7,1362.0 1611.3,1370.9 1622.0,1367.4 1632.6,1361.9 1643.2,1360.8 1653.9,1363.8 1664.6,1368.5 1675.2,1389.6 1685.9,1370.3 1696.5,1363.5 1707.2,1362.8 1717.8,1344.9 1728.5,1344.4 1739.1,1354.1 1749.8,1369.9 1760.4,1367.9 1771.1,1371.7 1781.7,1370.7 1792.4,1363.7 1803.0,1377.3 1813.7,1375.1 1824.3,1376.4 1835.0,1385.4 1845.6,1393.3 1856.2,1400.9 1866.9,1368.1 1877.6,1364.3 1888.2,1358.4 1898.9,1360.5 1909.5,1359.8 1920.2,1358.6 1930.8,1353.1 1941.5,1361.8 1952.1,1372.1 1962.8,1354.4 1973.4,1351.3 1984.1,1361.5 1994.7,1360.1 2005.4,1355.0 2016.0,1361.5 2026.7,1357.7 2037.3,1347.1 2048.0,1332.6 2058.6,1329.3 2069.2,1329.3 2079.9,1326.1 2090.5,1324.8 2101.2,1337.2 2111.8,1334.7 2122.5,1333.4 2133.2,1341.1 2143.8,1341.1 2154.4,1345.4 2165.1,1344.6 2175.8,1335.6 2186.4,1343.8 2197.0,1347.0 2207.7,1352.1 2218.3,1350.6 2229.0,1343.6 2239.7,1353.6 2250.3,1353.6 2260.9,1355.0 2271.6,1372.8 2282.2,1390.9 2292.9,1396.2 2303.5,1380.4 2314.2,1373.9 2324.8,1380.7 2335.5,1373.3 2346.2,1357.7 2356.8,1363.1 2367.4,1365.0 2378.1,1349.8 2388.8,1353.7 2399.4,1347.2 2410.0,1336.2 2420.7,1364.3 2431.3,1369.4 2442.0,1368.5 2452.7,1368.3 2463.3,1376.0 2473.9,1395.6 2484.6,1384.8 2495.2,1394.8 2505.9,1368.0 2516.5,1375.3 2527.2,1384.6 2537.8,1399.9 2548.5,1389.4 2559.2,1391.7 2569.8,1383.4 2580.4,1402.6 2591.1,1399.6 2601.8,1402.1 2612.4,1394.9 2623.0,1381.7 2633.7,1378.8 2644.3,1383.8 2655.0,1383.8 2665.7,1387.2 2676.3,1379.8 2686.9,1373.7 2697.6,1377.2 2708.2,1361.9 2718.9,1354.9 2729.5,1352.5 2740.2,1352.5 2750.8,1358.1 2761.5,1356.8 2772.2,1350.1 2782.8,1352.5 2793.4,1349.1 2804.1,1360.6 2814.8,1359.8 2825.4,1363.9 2836.0,1385.1 2846.7,1389.8 2857.3,1377.3 2868.0,1407.5 2878.7,1400.6 2889.3,1400.6 2899.9,1377.3 2910.6,1364.1 2921.2,1365.8 2931.9,1345.8 2942.5,1339.9 2953.2,1335.5 2963.8,1335.2 2974.5,1332.5 2985.2,1329.8 2995.8,1348.5 3006.4,1342.3 3017.1,1348.8 3017.1,1334" fill="url(#og)" clip-path="url(#co)"/>
<g clip-path="url(#cr)">
<polyline points="24.4,1379.7 35.1,1366.9 45.8,1362.3 56.4,1362.0 67.0,1361.2 77.7,1346.9 88.4,1372.0 99.0,1379.7 109.7,1390.4 120.3,1378.9 130.9,1379.4 141.6,1379.7 152.2,1379.7 162.9,1368.1 173.5,1352.8 184.2,1355.3 194.8,1342.5 205.5,1341.2 216.2,1356.1 226.8,1352.8 237.4,1342.5 248.1,1352.0 258.8,1351.3 269.4,1348.4 280.1,1348.9 290.7,1359.8 301.4,1362.6 312.0,1366.6 322.6,1356.0 333.3,1352.2 343.9,1364.4 354.6,1373.7 365.2,1388.7 375.9,1369.2 386.6,1384.7 397.2,1389.7 407.9,1389.9 418.5,1390.2 429.1,1390.4 439.8,1390.1 450.4,1383.6 461.1,1393.2 471.8,1377.6 482.4,1384.9 493.1,1378.7 503.7,1378.1 514.4,1387.1 525.0,1389.7 535.7,1390.3 546.3,1381.3 557.0,1368.9 567.6,1383.0 578.3,1380.7 588.9,1382.7 599.6,1413.4 610.2,1430.1 620.9,1453.3 631.5,1446.5 642.2,1448.4 652.8,1424.3 663.5,1368.8 674.1,1398.6 684.8,1393.1 695.4,1378.4 706.1,1380.8 716.7,1392.0 727.4,1394.1 738.0,1413.4 748.7,1420.5 759.3,1395.4 770.0,1391.8 780.6,1400.3 791.3,1386.7 801.9,1385.1 812.6,1391.4 823.2,1384.4 833.9,1389.3 844.5,1371.6 855.2,1380.9 865.8,1381.4 876.5,1382.5 887.1,1372.4 897.8,1366.8 908.4,1367.1 919.1,1369.1 929.7,1367.7 940.4,1381.4 951.0,1389.8 961.7,1391.1 972.3,1390.0 983.0,1373.6 993.6,1386.8 1004.3,1382.8 1014.9,1378.4 1025.5,1380.2 1036.2,1406.8 1046.9,1401.0 1057.5,1414.6 1068.2,1375.2 1078.8,1386.8 1089.5,1370.8 1100.1,1364.4 1110.8,1370.0 1121.4,1367.1 1132.1,1370.7 1142.7,1369.3 1153.4,1365.3 1164.0,1367.6 1174.7,1364.9 1185.3,1364.4 1196.0,1354.6 1206.6,1337.9 1217.2,1337.3 1227.9,1336.6 1238.6,1335.2 1249.2,1335.2 1259.9,1340.1 1270.5,1336.6 1281.2,1341.1 1291.8,1341.2 1302.5,1334.4 1313.1,1333.4 1323.8,1340.1 1334.4,1350.4 1345.1,1348.4 1355.7,1340.6 1366.4,1339.9 1377.0,1325.0 1387.7,1326.8 1398.3,1323.5 1409.0,1327.4 1419.6,1335.1 1430.2,1331.9 1440.9,1335.2 1451.6,1334.7 1462.2,1336.6 1472.9,1338.8 1483.5,1329.3 1494.2,1334.9 1504.8,1331.4 1515.5,1325.4 1526.1,1321.7 1536.8,1345.1 1547.4,1343.9 1558.1,1340.4 1568.7,1339.1 1579.4,1342.1 1590.0,1348.8 1600.7,1362.0 1611.3,1370.9 1622.0,1367.4 1632.6,1361.9 1643.2,1360.8 1653.9,1363.8 1664.6,1368.5 1675.2,1389.6 1685.9,1370.3 1696.5,1363.5 1707.2,1362.8 1717.8,1344.9 1728.5,1344.4 1739.1,1354.1 1749.8,1369.9 1760.4,1367.9 1771.1,1371.7 1781.7,1370.7 1792.4,1363.7 1803.0,1377.3 1813.7,1375.1 1824.3,1376.4 1835.0,1385.4 1845.6,1393.3 1856.2,1400.9 1866.9,1368.1 1877.6,1364.3 1888.2,1358.4 1898.9,1360.5 1909.5,1359.8 1920.2,1358.6 1930.8,1353.1 1941.5,1361.8 1952.1,1372.1 1962.8,1354.4 1973.4,1351.3 1984.1,1361.5 1994.7,1360.1 2005.4,1355.0 2016.0,1361.5 2026.7,1357.7 2037.3,1347.1 2048.0,1332.6 2058.6,1329.3 2069.2,1329.3 2079.9,1326.1 2090.5,1324.8 2101.2,1337.2 2111.8,1334.7 2122.5,1333.4 2133.2,1341.1 2143.8,1341.1 2154.4,1345.4 2165.1,1344.6 2175.8,1335.6 2186.4,1343.8 2197.0,1347.0 2207.7,1352.1 2218.3,1350.6 2229.0,1343.6 2239.7,1353.6 2250.3,1353.6 2260.9,1355.0 2271.6,1372.8 2282.2,1390.9 2292.9,1396.2 2303.5,1380.4 2314.2,1373.9 2324.8,1380.7 2335.5,1373.3 2346.2,1357.7 2356.8,1363.1 2367.4,1365.0 2378.1,1349.8 2388.8,1353.7 2399.4,1347.2 2410.0,1336.2 2420.7,1364.3 2431.3,1369.4 2442.0,1368.5 2452.7,1368.3 2463.3,1376.0 2473.9,1395.6 2484.6,1384.8 2495.2,1394.8 2505.9,1368.0 2516.5,1375.3 2527.2,1384.6 2537.8,1399.9 2548.5,1389.4 2559.2,1391.7 2569.8,1383.4 2580.4,1402.6 2591.1,1399.6 2601.8,1402.1 2612.4,1394.9 2623.0,1381.7 2633.7,1378.8 2644.3,1383.8 2655.0,1383.8 2665.7,1387.2 2676.3,1379.8 2686.9,1373.7 2697.6,1377.2 2708.2,1361.9 2718.9,1354.9 2729.5,1352.5 2740.2,1352.5 2750.8,1358.1 2761.5,1356.8 2772.2,1350.1 2782.8,1352.5 2793.4,1349.1 2804.1,1360.6 2814.8,1359.8 2825.4,1363.9 2836.0,1385.1 2846.7,1389.8 2857.3,1377.3 2868.0,1407.5 2878.7,1400.6 2889.3,1400.6 2899.9,1377.3 2910.6,1364.1 2921.2,1365.8 2931.9,1345.8 2942.5,1339.9 2953.2,1335.5 2963.8,1335.2 2974.5,1332.5 2985.2,1329.8 2995.8,1348.5 3006.4,1342.3 3017.1,1348.8" fill="none" stroke="#7e57c2" stroke-width="2.6" stroke-linejoin="round"/>
<polyline points="24.4,1378.9 35.1,1377.5 45.8,1376.1 56.4,1374.8 67.0,1373.4 77.7,1372.0 88.4,1372.7 99.0,1373.4 109.7,1374.0 120.3,1373.7 130.9,1373.3 141.6,1372.9 152.2,1372.5 162.9,1371.0 173.5,1369.5 184.2,1368.1 194.8,1366.6 205.5,1365.1 216.2,1363.7 226.8,1362.4 237.4,1363.0 248.1,1361.1 258.8,1358.6 269.4,1356.5 280.1,1354.5 290.7,1353.2 301.4,1352.2 312.0,1352.1 322.6,1352.3 333.3,1352.1 343.9,1353.7 354.6,1355.9 365.2,1358.0 375.9,1359.1 386.6,1362.1 397.2,1364.6 407.9,1367.3 418.5,1370.3 429.1,1373.3 439.8,1375.4 450.4,1377.0 461.1,1378.9 471.8,1380.6 482.4,1383.2 493.1,1384.4 503.7,1384.7 514.4,1384.6 525.0,1386.2 535.7,1386.6 546.3,1386.0 557.0,1384.4 567.6,1383.9 578.3,1383.2 588.9,1382.7 599.6,1384.5 610.2,1386.6 620.9,1391.0 631.5,1394.6 642.2,1399.0 652.8,1402.3 663.5,1400.6 674.1,1401.3 684.8,1401.5 695.4,1401.3 706.1,1402.4 716.7,1403.1 727.4,1404.2 738.0,1406.6 748.7,1407.0 759.3,1404.7 770.0,1400.9 780.6,1398.3 791.3,1394.6 801.9,1392.0 812.6,1393.9 823.2,1392.8 833.9,1392.5 844.5,1392.0 855.2,1392.0 865.8,1391.2 876.5,1390.4 887.1,1387.5 897.8,1383.9 908.4,1381.9 919.1,1380.2 929.7,1378.0 940.4,1377.6 951.0,1377.9 961.7,1377.9 972.3,1378.3 983.0,1377.2 993.6,1378.3 1004.3,1378.4 1014.9,1378.2 1025.5,1378.0 1036.2,1380.3 1046.9,1382.7 1057.5,1385.9 1068.2,1386.4 1078.8,1387.9 1089.5,1387.1 1100.1,1385.1 1110.8,1383.5 1121.4,1381.8 1132.1,1381.6 1142.7,1380.3 1153.4,1379.0 1164.0,1378.2 1174.7,1377.0 1185.3,1374.3 1196.0,1371.1 1206.6,1365.9 1217.2,1362.9 1227.9,1359.3 1238.6,1356.7 1249.2,1354.5 1259.9,1352.4 1270.5,1350.2 1281.2,1348.2 1291.8,1346.3 1302.5,1344.2 1313.1,1341.9 1323.8,1340.3 1334.4,1339.4 1345.1,1339.0 1355.7,1339.2 1366.4,1339.4 1377.0,1338.5 1387.7,1337.9 1398.3,1337.0 1409.0,1336.0 1419.6,1335.9 1430.2,1335.3 1440.9,1334.9 1451.6,1334.9 1462.2,1335.1 1472.9,1335.0 1483.5,1333.6 1494.2,1332.7 1504.8,1332.1 1515.5,1331.1 1526.1,1330.8 1536.8,1332.1 1547.4,1333.5 1558.1,1334.4 1568.7,1334.7 1579.4,1335.4 1590.0,1336.4 1600.7,1338.1 1611.3,1340.3 1622.0,1342.1 1632.6,1344.4 1643.2,1346.2 1653.9,1348.5 1664.6,1351.7 1675.2,1356.6 1685.9,1358.4 1696.5,1359.8 1707.2,1361.6 1717.8,1362.1 1728.5,1362.3 1739.1,1362.7 1749.8,1363.2 1760.4,1363.0 1771.1,1363.3 1781.7,1363.9 1792.4,1364.1 1803.0,1365.1 1813.7,1365.5 1824.3,1364.7 1835.0,1365.7 1845.6,1367.6 1856.2,1370.0 1866.9,1371.9 1877.6,1373.6 1888.2,1374.0 1898.9,1373.2 1909.5,1372.6 1920.2,1371.6 1930.8,1370.3 1941.5,1370.1 1952.1,1369.8 1962.8,1368.2 1973.4,1366.4 1984.1,1364.8 1994.7,1362.6 2005.4,1359.8 2016.0,1359.4 2026.7,1358.9 2037.3,1358.0 2048.0,1355.8 2058.6,1353.4 2069.2,1351.2 2079.9,1349.1 2090.5,1346.3 2101.2,1344.0 2111.8,1342.6 2122.5,1341.3 2133.2,1340.0 2143.8,1338.8 2154.4,1338.2 2165.1,1337.1 2175.8,1335.7 2186.4,1335.5 2197.0,1336.4 2207.7,1338.0 2218.3,1339.5 2229.0,1340.8 2239.7,1342.9 2250.3,1344.1 2260.9,1345.6 2271.6,1348.2 2282.2,1351.3 2292.9,1354.8 2303.5,1357.1 2314.2,1359.2 2324.8,1362.6 2335.5,1364.8 2346.2,1365.6 2356.8,1366.5 2367.4,1367.6 2378.1,1368.1 2388.8,1368.1 2399.4,1367.6 2410.0,1366.0 2420.7,1365.4 2431.3,1364.0 2442.0,1362.4 2452.7,1361.6 2463.3,1361.7 2473.9,1362.6 2484.6,1363.3 2495.2,1365.7 2505.9,1366.0 2516.5,1366.8 2527.2,1369.3 2537.8,1372.4 2548.5,1375.6 2559.2,1380.1 2569.8,1381.6 2580.4,1383.9 2591.1,1386.2 2601.8,1388.6 2612.4,1390.0 2623.0,1389.0 2633.7,1388.6 2644.3,1387.8 2655.0,1389.1 2665.7,1390.0 2676.3,1389.6 2686.9,1387.7 2697.6,1386.8 2708.2,1384.5 2718.9,1382.2 2729.5,1378.5 2740.2,1375.1 2750.8,1372.1 2761.5,1369.5 2772.2,1367.1 2782.8,1365.3 2793.4,1362.8 2804.1,1361.3 2814.8,1359.6 2825.4,1358.5 2836.0,1359.2 2846.7,1359.9 2857.3,1361.0 2868.0,1364.2 2878.7,1367.3 2889.3,1370.5 2899.9,1371.9 2910.6,1372.5 2921.2,1373.8 2931.9,1373.2 2942.5,1372.4 2953.2,1370.2 2963.8,1368.0 2974.5,1365.4 2985.2,1361.2 2995.8,1358.4 3006.4,1356.0 3017.1,1352.5" fill="none" stroke="#ffeb3b" stroke-width="2.6" stroke-linejoin="round"/>
</g>
<line x1="3424" y1="67" x2="3424" y2="1525" stroke="#404040" stroke-width="2"/>
<line x1="25" y1="1456" x2="3602" y2="1456" stroke="#404040" stroke-width="2"/>
<text x="24.8" y="48.8" font-size="30" fill="#0c0c0c" stroke="#0c0c0c" stroke-width="0.5" textLength="195.7" lengthAdjust="spacingAndGlyphs">Jake_Simmons</text>
<text x="229.2" y="48.8" font-size="30" fill="#0c0c0c" stroke="#0c0c0c" stroke-width="0.5" textLength="104.5" lengthAdjust="spacingAndGlyphs">created</text>
<text x="342.2" y="48.8" font-size="30" fill="#0c0c0c" stroke="#0c0c0c" stroke-width="0.5" textLength="59.4" lengthAdjust="spacingAndGlyphs">with</text>
<text x="411.0" y="48.8" font-size="30" fill="#0c0c0c" stroke="#0c0c0c" stroke-width="0.5" textLength="237.1" lengthAdjust="spacingAndGlyphs">TradingView.com,</text>
<text x="657.9" y="48.8" font-size="30" fill="#0c0c0c" stroke="#0c0c0c" stroke-width="0.5" textLength="47.1" lengthAdjust="spacingAndGlyphs">Oct</text>
<text x="713.8" y="48.8" font-size="30" fill="#0c0c0c" stroke="#0c0c0c" stroke-width="0.5" textLength="42.0" lengthAdjust="spacingAndGlyphs">09,</text>
<text x="765.3" y="48.8" font-size="30" fill="#0c0c0c" stroke="#0c0c0c" stroke-width="0.5" textLength="64.5" lengthAdjust="spacingAndGlyphs">2025</text>
<text x="838.4" y="48.8" font-size="30" fill="#0c0c0c" stroke="#0c0c0c" stroke-width="0.5" textLength="73.4" lengthAdjust="spacingAndGlyphs">02:33</text>
<text x="922.7" y="48.8" font-size="30" fill="#0c0c0c" stroke="#0c0c0c" stroke-width="0.5" textLength="81.2" lengthAdjust="spacingAndGlyphs">UTC-4</text>
<text x="45.2" y="115.9" font-size="30" fill="#4d4d4d" stroke="#4d4d4d" stroke-width="0.5" textLength="93.0" lengthAdjust="spacingAndGlyphs">Bitcoin</text>
<text x="157.4" y="115.9" font-size="30" fill="#4d4d4d" stroke="#4d4d4d" stroke-width="0.5" text-anchor="middle">/</text>
<text x="171.6" y="115.9" font-size="30" fill="#4d4d4d" stroke="#4d4d4d" stroke-width="0.5" textLength="121.4" lengthAdjust="spacingAndGlyphs">TetherUS</text>
<text x="308.0" y="115.9" font-size="30" fill="#4d4d4d" stroke="#4d4d4d" stroke-width="0.5" text-anchor="middle">·</text>
<text x="324.0" y="115.9" font-size="30" fill="#4d4d4d" stroke="#4d4d4d" stroke-width="0.5" textLength="32.0" lengthAdjust="spacingAndGlyphs">1D</text>
<text x="371.0" y="115.9" font-size="30" fill="#4d4d4d" stroke="#4d4d4d" stroke-width="0.5" text-anchor="middle">·</text>
<text x="386.4" y="115.9" font-size="30" fill="#4d4d4d" stroke="#4d4d4d" stroke-width="0.5" textLength="104.8" lengthAdjust="spacingAndGlyphs">Binance</text>
<text x="509.7" y="115.9" font-size="30" fill="#4d4d4d" stroke="#4d4d4d" stroke-width="0.5" textLength="20.6" lengthAdjust="spacingAndGlyphs">O</text>
<text x="696.8" y="115.9" font-size="30" fill="#4d4d4d" stroke="#4d4d4d" stroke-width="0.5" textLength="19.4" lengthAdjust="spacingAndGlyphs">H</text>
<text x="883.6" y="115.9" font-size="30" fill="#4d4d4d" stroke="#4d4d4d" stroke-width="0.5" textLength="14.0" lengthAdjust="spacingAndGlyphs">L</text>
<text x="1065.0" y="115.9" font-size="30" fill="#4d4d4d" stroke="#4d4d4d" stroke-width="0.5" textLength="18.6" lengthAdjust="spacingAndGlyphs">C</text>
<text x="531.5" y="115.9" font-size="30" fill="#ef5350" stroke="#ef5350" stroke-width="0.5" textLength="145.3" lengthAdjust="spacingAndGlyphs">123,306.01</text>
<text x="719.3" y="115.9" font-size="30" fill="#ef5350" stroke="#ef5350" stroke-width="0.5" textLength="145.7" lengthAdjust="spacingAndGlyphs">123,348.32</text>
<text x="901.5" y="115.9" font-size="30" fill="#ef5350" stroke="#ef5350" stroke-width="0.5" textLength="146.3" lengthAdjust="spacingAndGlyphs">121,475.98</text>
<text x="1085.6" y="115.9" font-size="30" fill="#ef5350" stroke="#ef5350" stroke-width="0.5" textLength="146.8" lengthAdjust="spacingAndGlyphs">122,147.80</text>
<text x="1250.6" y="115.9" font-size="30" fill="#ef5350" stroke="#ef5350" stroke-width="0.5" textLength="132.6" lengthAdjust="spacingAndGlyphs">−1,158.20</text>
<text x="1394.2" y="115.9" font-size="30" fill="#ef5350" stroke="#ef5350" stroke-width="0.5" textLength="112.8" lengthAdjust="spacingAndGlyphs">(−0.94%)</text>
<text x="45.2" y="158.0" font-size="30" fill="#4d4d4d" stroke="#4d4d4d" stroke-width="0.5" textLength="40.3" lengthAdjust="spacingAndGlyphs">Vol</text>
<text x="100.4" y="158.0" font-size="30" fill="#4d4d4d" stroke="#4d4d4d" stroke-width="0.5" text-anchor="middle">·</text>
<text x="115.7" y="158.0" font-size="30" fill="#4d4d4d" stroke="#4d4d4d" stroke-width="0.5" textLength="51.3" lengthAdjust="spacingAndGlyphs">BTC</text>
<text x="186.5" y="158.0" font-size="30" fill="#ef5350" stroke="#ef5350" stroke-width="0.5" textLength="54.7" lengthAdjust="spacingAndGlyphs">3.22</text>
<text x="249.6" y="158.0" font-size="30" fill="#ef5350" stroke="#ef5350" stroke-width="0.5" textLength="18.3" lengthAdjust="spacingAndGlyphs">K</text>
<text x="45.8" y="199.4" font-size="30" fill="#4d4d4d" stroke="#4d4d4d" stroke-width="0.5" textLength="54.6" lengthAdjust="spacingAndGlyphs">EMA</text>
<text x="109.3" y="199.4" font-size="30" fill="#4d4d4d" stroke="#4d4d4d" stroke-width="0.5" textLength="205.9" lengthAdjust="spacingAndGlyphs">20/50/100/200</text>
<text x="335.0" y="199.4" font-size="30" fill="#ff0000" stroke="#ff0000" stroke-width="0.5" textLength="146.8" lengthAdjust="spacingAndGlyphs">118,549.74</text>
<text x="501.0" y="199.4" font-size="30" fill="#ff8000" stroke="#ff8000" stroke-width="0.5" textLength="145.7" lengthAdjust="spacingAndGlyphs">116,026.21</text>
<text x="667.5" y="199.4" font-size="30" fill="#00ffff" stroke="#00ffff" stroke-width="0.5" textLength="148.6" lengthAdjust="spacingAndGlyphs">113,538.14</text>
<text x="834.5" y="199.4" font-size="30" fill="#0000ff" stroke="#0000ff" stroke-width="0.5" textLength="146.4" lengthAdjust="spacingAndGlyphs">107,765.51</text>
<text x="3091.3" y="158.8" font-size="30" fill="#2962ff" stroke="#2962ff" stroke-width="0.5" textLength="253.5" lengthAdjust="spacingAndGlyphs">1.618 (131,258.73)</text>
<text x="3091.3" y="261.8" font-size="30" fill="#f23645" stroke="#f23645" stroke-width="0.5" textLength="253.5" lengthAdjust="spacingAndGlyphs">1.414 (124,101.50)</text>
<text x="3091.3" y="336.8" font-size="30" fill="#ff9800" stroke="#ff9800" stroke-width="0.5" textLength="253.5" lengthAdjust="spacingAndGlyphs">1.272 (119,119.51)</text>
<text x="3091.3" y="488.8" font-size="30" fill="#787b86" stroke="#787b86" stroke-width="0.5" textLength="195.5" lengthAdjust="spacingAndGlyphs">1 (109,576.55)</text>
<text x="3091.3" y="618.8" font-size="30" fill="#00bcd4" stroke="#00bcd4" stroke-width="0.5" textLength="253.5" lengthAdjust="spacingAndGlyphs">0.786 (102,068.48)</text>
<text x="3091.3" y="726.8" font-size="30" fill="#089981" stroke="#089981" stroke-width="0.5" textLength="237.5" lengthAdjust="spacingAndGlyphs">0.618 (96,174.29)</text>
<text x="3091.3" y="807.8" font-size="30" fill="#4caf50" stroke="#4caf50" stroke-width="0.5" textLength="206.5" lengthAdjust="spacingAndGlyphs">0.5 (92,034.33)</text>
<text x="3091.3" y="891.8" font-size="30" fill="#ff9800" stroke="#ff9800" stroke-width="0.5" textLength="237.5" lengthAdjust="spacingAndGlyphs">0.382 (87,894.37)</text>
<text x="3091.3" y="1000.8" font-size="30" fill="#f23645" stroke="#f23645" stroke-width="0.5" textLength="237.5" lengthAdjust="spacingAndGlyphs">0.236 (82,772.04)</text>
<text x="3091.3" y="1193.8" font-size="30" fill="#787b86" stroke="#787b86" stroke-width="0.5" textLength="179.5" lengthAdjust="spacingAndGlyphs">0 (74,492.11)</text>
<path d="M3298,260 H3424 V300 H3298 a6,6 0 0 1 -6,-6 V266 a6,6 0 0 1 6,-6 z" fill="#ef5350"/>
<path d="M3424,260 H3587 a6,6 0 0 1 6,6 V326 a6,6 0 0 1 -6,6 H3424 z" fill="#ef5350"/>
<text x="3302.2" y="289.5" font-size="26" fill="#fff" stroke="#fff" stroke-width="0.5" textLength="110.0" lengthAdjust="spacingAndGlyphs">BTCUSDT</text>
<text x="3446.6" y="286.8" font-size="27.5" fill="#fff" stroke="#fff" stroke-width="0.5" textLength="133.0" lengthAdjust="spacingAndGlyphs">122,147.80</text>
<text x="3446.6" y="318.5" font-size="27.5" fill="#fff" stroke="#fff" stroke-width="0.5" textLength="104.0" lengthAdjust="spacingAndGlyphs" fill-opacity="0.8">17:26:26</text>
<line x1="3424" y1="67" x2="3424" y2="1525" stroke="#404040" stroke-width="2"/>
<rect x="3433" y="77" width="160" height="63.5" rx="9" fill="#fff" stroke="#e9ebef" stroke-width="1.5"/>
<text x="3457.0" y="118.0" font-size="29" fill="#0c0c0c" stroke="#0c0c0c" stroke-width="0.5" textLength="69.0" lengthAdjust="spacingAndGlyphs">USDT</text>
<text x="3446.0" y="202.1" font-size="27.5" fill="#4d4d4d" stroke="#4d4d4d" stroke-width="0.5" textLength="133.0" lengthAdjust="spacingAndGlyphs">128,000.00</text>
<text x="3446.0" y="445.9" font-size="27.5" fill="#4d4d4d" stroke="#4d4d4d" stroke-width="0.5" textLength="133.0" lengthAdjust="spacingAndGlyphs">112,000.00</text>
<text x="3446.0" y="529.3" font-size="27.5" fill="#4d4d4d" stroke="#4d4d4d" stroke-width="0.5" textLength="133.0" lengthAdjust="spacingAndGlyphs">107,000.00</text>
<text x="3446.0" y="616.7" font-size="27.5" fill="#4d4d4d" stroke="#4d4d4d" stroke-width="0.5" textLength="133.0" lengthAdjust="spacingAndGlyphs">102,000.00</text>
<text x="3446.0" y="689.7" font-size="27.5" fill="#4d4d4d" stroke="#4d4d4d" stroke-width="0.5" textLength="119.6" lengthAdjust="spacingAndGlyphs">98,000.00</text>
<text x="3446.0" y="765.8" font-size="27.5" fill="#4d4d4d" stroke="#4d4d4d" stroke-width="0.5" textLength="119.6" lengthAdjust="spacingAndGlyphs">94,000.00</text>
<text x="3446.0" y="845.2" font-size="27.5" fill="#4d4d4d" stroke="#4d4d4d" stroke-width="0.5" textLength="119.6" lengthAdjust="spacingAndGlyphs">90,000.00</text>
<text x="3446.0" y="928.2" font-size="27.5" fill="#4d4d4d" stroke="#4d4d4d" stroke-width="0.5" textLength="119.6" lengthAdjust="spacingAndGlyphs">86,000.00</text>
<text x="3446.0" y="1015.2" font-size="27.5" fill="#4d4d4d" stroke="#4d4d4d" stroke-width="0.5" textLength="119.6" lengthAdjust="spacingAndGlyphs">82,000.00</text>
<text x="3446.0" y="1106.5" font-size="27.5" fill="#4d4d4d" stroke="#4d4d4d" stroke-width="0.5" textLength="119.6" lengthAdjust="spacingAndGlyphs">78,000.00</text>
<text x="3446.0" y="1178.1" font-size="27.5" fill="#4d4d4d" stroke="#4d4d4d" stroke-width="0.5" textLength="119.6" lengthAdjust="spacingAndGlyphs">75,000.00</text>
<text x="3446.0" y="1257.7" font-size="27.5" fill="#4d4d4d" stroke="#4d4d4d" stroke-width="0.5" textLength="119.6" lengthAdjust="spacingAndGlyphs">71,800.00</text>
<text x="3446.0" y="1328.7" font-size="27.5" fill="#4d4d4d" stroke="#4d4d4d" stroke-width="0.5" textLength="66.0" lengthAdjust="spacingAndGlyphs">80.00</text>
<text x="3446.0" y="1405.6" font-size="27.5" fill="#4d4d4d" stroke="#4d4d4d" stroke-width="0.5" textLength="66.0" lengthAdjust="spacingAndGlyphs">40.00</text>
<text x="44.7" y="1348.0" font-size="30" fill="#4d4d4d" stroke="#4d4d4d" stroke-width="0.5" textLength="39.6" lengthAdjust="spacingAndGlyphs">RSI</text>
<text x="95.7" y="1348.0" font-size="30" fill="#4d4d4d" stroke="#4d4d4d" stroke-width="0.5" textLength="49.5" lengthAdjust="spacingAndGlyphs">(14,</text>
<text x="156.7" y="1348.0" font-size="30" fill="#4d4d4d" stroke="#4d4d4d" stroke-width="0.5" textLength="79.0" lengthAdjust="spacingAndGlyphs">close)</text>
<text x="442.7" y="1348.0" font-size="30" fill="#4d4d4d" stroke="#4d4d4d" stroke-width="0.5" textLength="23.8" lengthAdjust="spacingAndGlyphs">∅</text>
<text x="489.6" y="1348.0" font-size="30" fill="#4d4d4d" stroke="#4d4d4d" stroke-width="0.5" textLength="23.6" lengthAdjust="spacingAndGlyphs">∅</text>
<text x="254.9" y="1348.0" font-size="30" fill="#7e57c2" stroke="#7e57c2" stroke-width="0.5" textLength="74.3" lengthAdjust="spacingAndGlyphs">61.44</text>
<text x="348.0" y="1348.0" font-size="30" fill="#ffeb3b" stroke="#ffeb3b" stroke-width="0.5" textLength="71.6" lengthAdjust="spacingAndGlyphs">59.27</text>
<text x="354.6" y="1500.0" font-size="27" fill="#4d4d4d" stroke="#4d4d4d" stroke-width="0.5" textLength="44.4" lengthAdjust="spacingAndGlyphs" text-anchor="middle">Feb</text>
<text x="652.8" y="1500.0" font-size="27" fill="#4d4d4d" stroke="#4d4d4d" stroke-width="0.5" textLength="44.4" lengthAdjust="spacingAndGlyphs" text-anchor="middle">Mar</text>
<text x="983.0" y="1500.0" font-size="27" fill="#4d4d4d" stroke="#4d4d4d" stroke-width="0.5" textLength="42.8" lengthAdjust="spacingAndGlyphs" text-anchor="middle">Apr</text>
<text x="1302.5" y="1500.0" font-size="27" fill="#4d4d4d" stroke="#4d4d4d" stroke-width="0.5" textLength="49.2" lengthAdjust="spacingAndGlyphs" text-anchor="middle">May</text>
<text x="1632.6" y="1500.0" font-size="27" fill="#4d4d4d" stroke="#4d4d4d" stroke-width="0.5" textLength="43.4" lengthAdjust="spacingAndGlyphs" text-anchor="middle">Jun</text>
<text x="1952.1" y="1500.0" font-size="27" fill="#4d4d4d" stroke="#4d4d4d" stroke-width="0.5" textLength="37.0" lengthAdjust="spacingAndGlyphs" text-anchor="middle">Jul</text>
<text x="2282.2" y="1500.0" font-size="27" fill="#4d4d4d" stroke="#4d4d4d" stroke-width="0.5" textLength="45.7" lengthAdjust="spacingAndGlyphs" text-anchor="middle">Aug</text>
<text x="2612.4" y="1500.0" font-size="27" fill="#4d4d4d" stroke="#4d4d4d" stroke-width="0.5" textLength="43.5" lengthAdjust="spacingAndGlyphs" text-anchor="middle">Sep</text>
<text x="2931.9" y="1500.0" font-size="27" fill="#4d4d4d" stroke="#4d4d4d" stroke-width="0.5" textLength="43.0" lengthAdjust="spacingAndGlyphs" text-anchor="middle">Oct</text>
<text x="3262.0" y="1500.0" font-size="27" fill="#4d4d4d" stroke="#4d4d4d" stroke-width="0.5" textLength="46.2" lengthAdjust="spacingAndGlyphs" text-anchor="middle">Nov</text>
<text x="25.8" y="1500.0" font-size="27" fill="#4d4d4d" textLength="29.5" lengthAdjust="spacingAndGlyphs" font-weight="bold">25</text>
<g fill="#0f0f0f">
<path d="M30,1580 H60 V1617.4 H44.8 V1595 H30 z"/>
<circle cx="72.5" cy="1587.5" r="7.5"/>
<path d="M86,1580 H104.8 L90.4,1617.4 H72.5 z"/>
</g>
<text x="121.2 146.6 164.5 197.2 228.2 242 273.8 302 338.2 352.8 384.4" y="1617.4" font-size="54" font-weight="bold" fill="#0f0f0f">TradingView</text>
</svg>
</body></html>
